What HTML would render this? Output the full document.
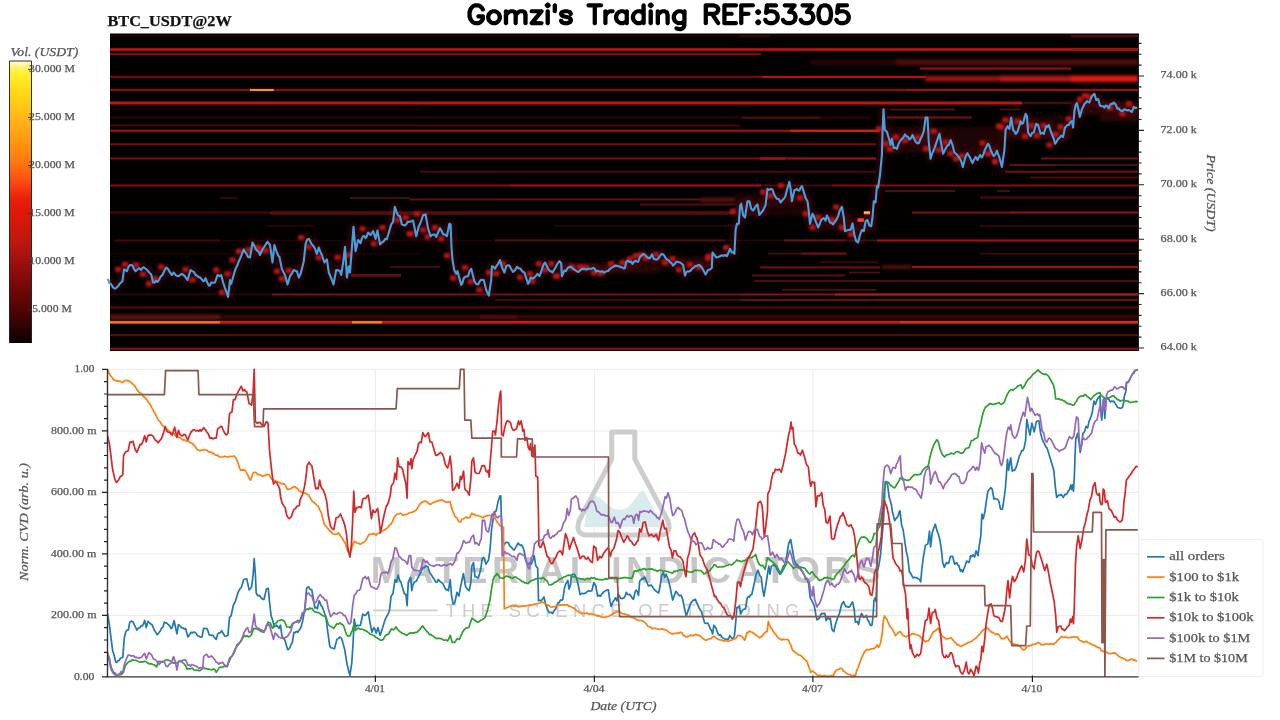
<!DOCTYPE html>
<html lang="en"><head><meta charset="utf-8"><title>Gomzi's Trading REF:53305 - BTC_USDT@2W</title>
<style>
html,body{margin:0;padding:0;background:#fff}
body{width:1280px;height:720px;overflow:hidden;position:relative;font-family:"Liberation Serif",serif}
svg{position:absolute;left:0;top:0;display:block}
svg text{font-family:"Liberation Serif",serif}
svg text.wm{font-family:"Liberation Sans",sans-serif}
h1{position:absolute;left:467px;top:0;width:385px;height:28px;margin:0;font:bold 27px/28px "Liberation Sans",sans-serif;color:transparent;white-space:nowrap;overflow:hidden}
</style></head><body>
<svg width="1280" height="720" viewBox="0 0 1280 720">
<defs>
<linearGradient id="cb" x1="0" y1="0" x2="0" y2="1">

<stop offset="0.0000" stop-color="#fffde0"/>
<stop offset="0.0106" stop-color="#fff8b8"/>
<stop offset="0.0248" stop-color="#fff260"/>
<stop offset="0.0532" stop-color="#ffec28"/>
<stop offset="0.1028" stop-color="#ffdc18"/>
<stop offset="0.1525" stop-color="#ffcb14"/>
<stop offset="0.1986" stop-color="#ffb818"/>
<stop offset="0.2801" stop-color="#ff9a10"/>
<stop offset="0.3688" stop-color="#ff7210"/>
<stop offset="0.4397" stop-color="#f84410"/>
<stop offset="0.4858" stop-color="#ea200a"/>
<stop offset="0.5355" stop-color="#e01808"/>
<stop offset="0.6348" stop-color="#c01810"/>
<stop offset="0.7057" stop-color="#a01010"/>
<stop offset="0.7943" stop-color="#780808"/>
<stop offset="0.8794" stop-color="#500404"/>
<stop offset="0.9539" stop-color="#280202"/>
<stop offset="1.0000" stop-color="#0c0000"/>
</linearGradient>
<clipPath id="hc"><rect x="110" y="33.5" width="1028" height="317.5"/></clipPath>
<clipPath id="cc"><rect x="107" y="368" width="1032" height="309.5"/></clipPath>
<filter color-interpolation-filters="sRGB" id="b0" x="-2%" y="-5%" width="104%" height="110%"><feGaussianBlur stdDeviation="0.35"/></filter>
<filter color-interpolation-filters="sRGB" id="b1" x="-5%" y="-5%" width="110%" height="110%"><feGaussianBlur stdDeviation="0.5 0.62"/></filter>
<filter color-interpolation-filters="sRGB" id="b3" x="-5%" y="-5%" width="110%" height="110%"><feGaussianBlur stdDeviation="1.5 1.7"/></filter>
<filter color-interpolation-filters="sRGB" id="b4" x="-5%" y="-20%" width="110%" height="140%"><feGaussianBlur stdDeviation="2.2"/></filter>
<filter color-interpolation-filters="sRGB" id="b2" x="-5%" y="-5%" width="110%" height="110%"><feGaussianBlur stdDeviation="1.1"/></filter>
</defs>

<rect x="110" y="33.5" width="1028.5" height="317.5" fill="#030000"/>
<g clip-path="url(#hc)"><g filter="url(#b1)">
<rect x="110" y="35.20" width="1028.0" height="1.6" fill="#300000"/>
<rect x="740" y="35.20" width="30.0" height="1.6" fill="#500606"/>
<rect x="1071" y="35.00" width="67.0" height="2" fill="#600808"/>
<rect x="110" y="48.20" width="961.0" height="2.6" fill="#c81010"/>
<rect x="1071" y="47.90" width="67.0" height="3.2" fill="#a01010"/>
<rect x="110" y="53.25" width="651.0" height="2" fill="#900808"/>
<rect x="920" y="67.50" width="151.0" height="2" fill="#a01010"/>
<rect x="110" y="75.75" width="652.0" height="2" fill="#880808"/>
<rect x="762" y="75.80" width="164.0" height="2.2" fill="#b81010"/>
<rect x="110" y="89.00" width="797.0" height="2" fill="#900808"/>
<rect x="907" y="88.90" width="231.0" height="2.2" fill="#a01010"/>
<rect x="250" y="88.90" width="23.8" height="2.2" fill="#ff9020"/>
<rect x="110" y="101.50" width="912.0" height="3" fill="#c81010"/>
<rect x="1022" y="101.75" width="50.0" height="2.5" fill="#401010"/>
<rect x="110" y="108.75" width="310.0" height="1.5" fill="#200000"/>
<rect x="890" y="108.50" width="65.0" height="2" fill="#501010"/>
<rect x="1000" y="108.50" width="20.0" height="2" fill="#401010"/>
<rect x="110" y="116.60" width="760.0" height="1.8" fill="#380000"/>
<rect x="742" y="116.80" width="79.0" height="1.8" fill="#501010"/>
<rect x="887" y="116.40" width="85.0" height="2.2" fill="#701010"/>
<rect x="110" y="124.60" width="630.0" height="1.8" fill="#500404"/>
<rect x="110" y="129.65" width="680.0" height="2.2" fill="#a00c0c"/>
<rect x="790" y="129.55" width="90.0" height="2.4" fill="#d02010"/>
<rect x="110" y="143.25" width="766.0" height="2" fill="#800808"/>
<rect x="110" y="157.50" width="650.0" height="2" fill="#880808"/>
<rect x="760" y="157.20" width="25.0" height="2.6" fill="#b01010"/>
<rect x="785" y="157.40" width="91.0" height="2.2" fill="#a01010"/>
<rect x="1041" y="157.50" width="97.0" height="2" fill="#701010"/>
<rect x="1010" y="164.00" width="45.0" height="2" fill="#601010"/>
<rect x="1055" y="164.00" width="83.0" height="2" fill="#401010"/>
<rect x="420" y="170.85" width="456.0" height="1.8" fill="#500808"/>
<rect x="1005" y="170.75" width="133.0" height="2" fill="#701010"/>
<rect x="1030" y="176.60" width="108.0" height="1.8" fill="#500808"/>
<rect x="110" y="184.50" width="400.0" height="2" fill="#900808"/>
<rect x="510" y="184.40" width="251.0" height="2.2" fill="#a01010"/>
<rect x="761" y="184.60" width="71.0" height="1.8" fill="#401010"/>
<rect x="832" y="184.50" width="306.0" height="2" fill="#801010"/>
<rect x="885" y="190.00" width="70.0" height="2" fill="#501010"/>
<rect x="997" y="190.00" width="13.0" height="2" fill="#401010"/>
<rect x="220" y="197.00" width="17.0" height="2" fill="#300606"/>
<rect x="350" y="197.00" width="60.0" height="2" fill="#401010"/>
<rect x="980" y="196.25" width="158.0" height="2.5" fill="#400808"/>
<rect x="410" y="198.50" width="325.0" height="2" fill="#601010"/>
<rect x="640" y="203.50" width="100.0" height="2" fill="#501010"/>
<rect x="110" y="211.50" width="160.0" height="2" fill="#500505"/>
<rect x="270" y="211.30" width="465.0" height="3.4" fill="#580c0c"/>
<rect x="912" y="211.50" width="98.0" height="2" fill="#801010"/>
<rect x="1010" y="211.40" width="128.0" height="2.2" fill="#901010"/>
<rect x="267" y="225.20" width="48.0" height="1.6" fill="#300404"/>
<rect x="555" y="225.20" width="185.0" height="1.6" fill="#2a0808"/>
<rect x="980" y="225.20" width="158.0" height="1.6" fill="#380808"/>
<rect x="115" y="239.50" width="105.0" height="2" fill="#480606"/>
<rect x="220" y="239.70" width="275.0" height="1.6" fill="#200303"/>
<rect x="495" y="239.40" width="230.0" height="2" fill="#501010"/>
<rect x="725" y="239.60" width="59.0" height="1.6" fill="#280505"/>
<rect x="784" y="239.40" width="61.0" height="2" fill="#701010"/>
<rect x="845" y="239.50" width="32.0" height="1.8" fill="#401010"/>
<rect x="877" y="239.40" width="261.0" height="2.2" fill="#a01010"/>
<rect x="110" y="253.00" width="310.0" height="1.5" fill="#1c0202"/>
<rect x="768" y="252.70" width="34.0" height="1.8" fill="#401010"/>
<rect x="802" y="252.50" width="45.0" height="2.2" fill="#701010"/>
<rect x="980" y="252.95" width="158.0" height="1.6" fill="#400808"/>
<rect x="819" y="261.40" width="59.0" height="1.8" fill="#400808"/>
<rect x="390" y="266.10" width="50.0" height="1.8" fill="#401010"/>
<rect x="760" y="266.40" width="120.0" height="2" fill="#701010"/>
<rect x="912" y="265.90" width="226.0" height="2.2" fill="#a01010"/>
<rect x="752" y="274.60" width="93.0" height="1.8" fill="#601010"/>
<rect x="849" y="271.60" width="31.0" height="1.8" fill="#501010"/>
<rect x="351" y="273.80" width="50.0" height="3" fill="#601010"/>
<rect x="754" y="280.10" width="384.0" height="1.8" fill="#501010"/>
<rect x="782" y="288.90" width="94.0" height="1.8" fill="#501010"/>
<rect x="110" y="293.60" width="162.0" height="1.8" fill="#2c0808"/>
<rect x="272" y="293.50" width="208.0" height="2" fill="#801010"/>
<rect x="480" y="293.50" width="260.0" height="2" fill="#701010"/>
<rect x="740" y="293.50" width="95.0" height="2" fill="#901010"/>
<rect x="835" y="293.30" width="303.0" height="2.4" fill="#b01818"/>
<rect x="495" y="299.10" width="245.0" height="1.8" fill="#500808"/>
<rect x="740" y="299.00" width="398.0" height="2" fill="#601010"/>
<rect x="110" y="306.50" width="1028.0" height="2" fill="#600808"/>
<rect x="480" y="315.50" width="37.0" height="3" fill="#801818"/>
<rect x="110" y="320.85" width="110.0" height="2.8" fill="#ff7020"/>
<rect x="220" y="320.85" width="132.0" height="2.8" fill="#d81810"/>
<rect x="352" y="320.85" width="30.0" height="2.8" fill="#ff7828"/>
<rect x="382" y="320.85" width="518.0" height="2.8" fill="#d81810"/>
<rect x="900" y="320.85" width="238.0" height="2.8" fill="#e82818"/>
<rect x="110" y="334.00" width="1028.0" height="2" fill="#600808"/>
<rect x="110" y="347.65" width="1028.0" height="2.2" fill="#901010"/>
</g><g filter="url(#b3)">
<rect x="810" y="59.80" width="86.0" height="5" fill="#2a0505"/>
<rect x="896" y="59.05" width="242.0" height="6.5" fill="#4a0c0c"/>
<rect x="925" y="75.95" width="75.0" height="5.5" fill="#a01212"/>
<rect x="1000" y="75.70" width="71.0" height="6" fill="#b81818"/>
<rect x="1071" y="75.45" width="67.0" height="6.5" fill="#e01c12"/>
<rect x="880" y="129.50" width="120.0" height="4" fill="#501010"/>
<rect x="700" y="197.50" width="35.0" height="5" fill="#501010"/>
<rect x="882" y="265.00" width="30.0" height="4" fill="#501010"/>
<rect x="110" y="314.50" width="110.0" height="5" fill="#601810"/>
<rect x="220" y="315.00" width="918.0" height="4" fill="#400808"/>
<rect x="880" y="127.0" width="120.0" height="26" fill="#1e0404"/>
<rect x="1000" y="116.0" width="71.0" height="24" fill="#1c0404"/>
<rect x="1071" y="101.0" width="67.0" height="14" fill="#260505"/>
<rect x="1100" y="113.0" width="38.0" height="8" fill="#2c0606"/>
<rect x="560" y="263.0" width="100.0" height="10" fill="#260505"/>
<rect x="640" y="257.0" width="72.0" height="10" fill="#220404"/>
<rect x="735" y="194.0" width="75.0" height="22" fill="#1a0303"/>
<rect x="810" y="213.0" width="66.0" height="18" fill="#180303"/>
</g><g filter="url(#b2)">
<rect x="115.1" y="266.8" width="6" height="5.2" fill="#d01818" opacity="0.88"/>
<rect x="122.0" y="261.8" width="6" height="5.2" fill="#d01818" opacity="0.88"/>
<rect x="133.0" y="262.4" width="6" height="5.2" fill="#d01818" opacity="0.88"/>
<rect x="140.0" y="271.8" width="6" height="5.2" fill="#d01818" opacity="0.88"/>
<rect x="145.8" y="281.1" width="6" height="5.2" fill="#d01818" opacity="0.88"/>
<rect x="152.0" y="276.1" width="6" height="5.2" fill="#d01818" opacity="0.88"/>
<rect x="158.2" y="264.3" width="6" height="5.2" fill="#d01818" opacity="0.88"/>
<rect x="182.6" y="266.8" width="6" height="5.2" fill="#d01818" opacity="0.88"/>
<rect x="189.5" y="277.4" width="6" height="5.2" fill="#d01818" opacity="0.88"/>
<rect x="213.2" y="267.4" width="6" height="5.2" fill="#d01818" opacity="0.88"/>
<rect x="218.9" y="289.9" width="6" height="5.2" fill="#d01818" opacity="0.88"/>
<rect x="224.5" y="271.1" width="6" height="5.2" fill="#d01818" opacity="0.88"/>
<rect x="229.5" y="257.4" width="6" height="5.2" fill="#d01818" opacity="0.88"/>
<rect x="235.8" y="248.7" width="6" height="5.2" fill="#d01818" opacity="0.88"/>
<rect x="245.8" y="247.4" width="6" height="5.2" fill="#d01818" opacity="0.88"/>
<rect x="254.5" y="244.9" width="6" height="5.2" fill="#d01818" opacity="0.88"/>
<rect x="298.2" y="234.9" width="6" height="5.2" fill="#d01818" opacity="0.88"/>
<rect x="305.8" y="244.3" width="6" height="5.2" fill="#d01818" opacity="0.88"/>
<rect x="256.4" y="246.2" width="6" height="5.2" fill="#d01818" opacity="0.88"/>
<rect x="262.6" y="248.0" width="6" height="5.2" fill="#d01818" opacity="0.88"/>
<rect x="273.9" y="268.6" width="6" height="5.2" fill="#d01818" opacity="0.88"/>
<rect x="278.9" y="276.1" width="6" height="5.2" fill="#d01818" opacity="0.88"/>
<rect x="285.8" y="268.0" width="6" height="5.2" fill="#d01818" opacity="0.88"/>
<rect x="315.8" y="254.9" width="6" height="5.2" fill="#d01818" opacity="0.88"/>
<rect x="334.5" y="254.9" width="6" height="5.2" fill="#d01818" opacity="0.88"/>
<rect x="345.8" y="252.4" width="6" height="5.2" fill="#d01818" opacity="0.88"/>
<rect x="359.5" y="226.2" width="6" height="5.2" fill="#d01818" opacity="0.88"/>
<rect x="370.8" y="241.2" width="6" height="5.2" fill="#d01818" opacity="0.88"/>
<rect x="379.5" y="224.9" width="6" height="5.2" fill="#d01818" opacity="0.88"/>
<rect x="394.5" y="217.4" width="6" height="5.2" fill="#d01818" opacity="0.88"/>
<rect x="402.6" y="214.9" width="6" height="5.2" fill="#d01818" opacity="0.88"/>
<rect x="406.4" y="231.2" width="6" height="5.2" fill="#d01818" opacity="0.88"/>
<rect x="413.9" y="211.2" width="6" height="5.2" fill="#d01818" opacity="0.88"/>
<rect x="407.6" y="231.2" width="6" height="5.2" fill="#d01818" opacity="0.88"/>
<rect x="420.1" y="227.4" width="6" height="5.2" fill="#d01818" opacity="0.88"/>
<rect x="424.5" y="234.3" width="6" height="5.2" fill="#d01818" opacity="0.88"/>
<rect x="432.0" y="224.9" width="6" height="5.2" fill="#d01818" opacity="0.88"/>
<rect x="438.2" y="236.2" width="6" height="5.2" fill="#d01818" opacity="0.88"/>
<rect x="443.9" y="253.0" width="6" height="5.2" fill="#d01818" opacity="0.88"/>
<rect x="450.1" y="275.5" width="6" height="5.2" fill="#d01818" opacity="0.88"/>
<rect x="462.0" y="264.9" width="6" height="5.2" fill="#d01818" opacity="0.88"/>
<rect x="467.6" y="279.3" width="6" height="5.2" fill="#d01818" opacity="0.88"/>
<rect x="476.4" y="287.4" width="6" height="5.2" fill="#d01818" opacity="0.88"/>
<rect x="485.8" y="269.9" width="6" height="5.2" fill="#d01818" opacity="0.88"/>
<rect x="493.2" y="271.1" width="6" height="5.2" fill="#d01818" opacity="0.88"/>
<rect x="500.1" y="261.1" width="6" height="5.2" fill="#d01818" opacity="0.88"/>
<rect x="517.0" y="274.9" width="6" height="5.2" fill="#d01818" opacity="0.88"/>
<rect x="527.0" y="271.1" width="6" height="5.2" fill="#d01818" opacity="0.88"/>
<rect x="529.5" y="278.6" width="6" height="5.2" fill="#d01818" opacity="0.88"/>
<rect x="535.8" y="261.1" width="6" height="5.2" fill="#d01818" opacity="0.88"/>
<rect x="542.0" y="267.4" width="6" height="5.2" fill="#d01818" opacity="0.88"/>
<rect x="548.2" y="261.1" width="6" height="5.2" fill="#d01818" opacity="0.88"/>
<rect x="553.9" y="273.6" width="6" height="5.2" fill="#d01818" opacity="0.88"/>
<rect x="553.2" y="273.6" width="6" height="5.2" fill="#d01818" opacity="0.88"/>
<rect x="569.0" y="264.4" width="6" height="5.2" fill="#d01818" opacity="0.88"/>
<rect x="577.0" y="264.4" width="6" height="5.2" fill="#d01818" opacity="0.88"/>
<rect x="583.0" y="264.9" width="6" height="5.2" fill="#d01818" opacity="0.88"/>
<rect x="591.0" y="270.4" width="6" height="5.2" fill="#d01818" opacity="0.88"/>
<rect x="598.0" y="270.9" width="6" height="5.2" fill="#d01818" opacity="0.88"/>
<rect x="608.0" y="261.1" width="6" height="5.2" fill="#d01818" opacity="0.88"/>
<rect x="619.5" y="259.9" width="6" height="5.2" fill="#d01818" opacity="0.88"/>
<rect x="627.0" y="256.1" width="6" height="5.2" fill="#d01818" opacity="0.88"/>
<rect x="633.0" y="253.0" width="6" height="5.2" fill="#d01818" opacity="0.88"/>
<rect x="638.0" y="252.4" width="6" height="5.2" fill="#d01818" opacity="0.88"/>
<rect x="643.0" y="255.4" width="6" height="5.2" fill="#d01818" opacity="0.88"/>
<rect x="653.0" y="251.8" width="6" height="5.2" fill="#d01818" opacity="0.88"/>
<rect x="662.0" y="259.9" width="6" height="5.2" fill="#d01818" opacity="0.88"/>
<rect x="669.5" y="256.1" width="6" height="5.2" fill="#d01818" opacity="0.88"/>
<rect x="675.8" y="267.4" width="6" height="5.2" fill="#d01818" opacity="0.88"/>
<rect x="687.0" y="261.8" width="6" height="5.2" fill="#d01818" opacity="0.88"/>
<rect x="695.8" y="264.9" width="6" height="5.2" fill="#d01818" opacity="0.88"/>
<rect x="705.0" y="255.4" width="6" height="5.2" fill="#d01818" opacity="0.88"/>
<rect x="730.0" y="208.7" width="6" height="5.2" fill="#d01818" opacity="0.88"/>
<rect x="760.0" y="189.4" width="6" height="5.2" fill="#d01818" opacity="0.88"/>
<rect x="778.0" y="183.0" width="6" height="5.2" fill="#d01818" opacity="0.88"/>
<rect x="767.6" y="193.0" width="6" height="5.2" fill="#d01818" opacity="0.88"/>
<rect x="797.0" y="195.4" width="6" height="5.2" fill="#d01818" opacity="0.88"/>
<rect x="802.6" y="211.2" width="6" height="5.2" fill="#d01818" opacity="0.88"/>
<rect x="809.5" y="224.9" width="6" height="5.2" fill="#d01818" opacity="0.88"/>
<rect x="815.0" y="214.9" width="6" height="5.2" fill="#d01818" opacity="0.88"/>
<rect x="829.0" y="217.4" width="6" height="5.2" fill="#d01818" opacity="0.88"/>
<rect x="833.0" y="204.4" width="6" height="5.2" fill="#d01818" opacity="0.88"/>
<rect x="839.0" y="224.9" width="6" height="5.2" fill="#d01818" opacity="0.88"/>
<rect x="848.0" y="231.8" width="6" height="5.2" fill="#d01818" opacity="0.88"/>
<rect x="705.8" y="253.7" width="6" height="5.2" fill="#d01818" opacity="0.88"/>
<rect x="723.0" y="244.9" width="6" height="5.2" fill="#d01818" opacity="0.88"/>
<rect x="875.8" y="126.2" width="6" height="5.2" fill="#d01818" opacity="0.88"/>
<rect x="882.6" y="141.2" width="6" height="5.2" fill="#d01818" opacity="0.88"/>
<rect x="887.0" y="146.8" width="6" height="5.2" fill="#d01818" opacity="0.88"/>
<rect x="893.0" y="134.4" width="6" height="5.2" fill="#d01818" opacity="0.88"/>
<rect x="902.0" y="138.0" width="6" height="5.2" fill="#d01818" opacity="0.88"/>
<rect x="914.5" y="134.9" width="6" height="5.2" fill="#d01818" opacity="0.88"/>
<rect x="923.0" y="146.2" width="6" height="5.2" fill="#d01818" opacity="0.88"/>
<rect x="930.8" y="128.7" width="6" height="5.2" fill="#d01818" opacity="0.88"/>
<rect x="935.8" y="147.4" width="6" height="5.2" fill="#d01818" opacity="0.88"/>
<rect x="942.6" y="139.9" width="6" height="5.2" fill="#d01818" opacity="0.88"/>
<rect x="947.6" y="151.2" width="6" height="5.2" fill="#d01818" opacity="0.88"/>
<rect x="953.0" y="156.2" width="6" height="5.2" fill="#d01818" opacity="0.88"/>
<rect x="959.0" y="153.4" width="6" height="5.2" fill="#d01818" opacity="0.88"/>
<rect x="979.5" y="140.4" width="6" height="5.2" fill="#d01818" opacity="0.88"/>
<rect x="985.8" y="151.2" width="6" height="5.2" fill="#d01818" opacity="0.88"/>
<rect x="992.0" y="158.7" width="6" height="5.2" fill="#d01818" opacity="0.88"/>
<rect x="996.0" y="123.4" width="6" height="5.2" fill="#d01818" opacity="0.88"/>
<rect x="992.0" y="159.3" width="6" height="5.2" fill="#d01818" opacity="0.88"/>
<rect x="985.0" y="151.2" width="6" height="5.2" fill="#d01818" opacity="0.88"/>
<rect x="998.2" y="124.3" width="6" height="5.2" fill="#d01818" opacity="0.88"/>
<rect x="1002.6" y="117.4" width="6" height="5.2" fill="#d01818" opacity="0.88"/>
<rect x="1022.0" y="133.7" width="6" height="5.2" fill="#d01818" opacity="0.88"/>
<rect x="1014.5" y="118.7" width="6" height="5.2" fill="#d01818" opacity="0.88"/>
<rect x="1028.0" y="123.0" width="6" height="5.2" fill="#d01818" opacity="0.88"/>
<rect x="1034.0" y="133.0" width="6" height="5.2" fill="#d01818" opacity="0.88"/>
<rect x="1040.8" y="123.0" width="6" height="5.2" fill="#d01818" opacity="0.88"/>
<rect x="1046.4" y="142.4" width="6" height="5.2" fill="#d01818" opacity="0.88"/>
<rect x="1052.6" y="131.8" width="6" height="5.2" fill="#d01818" opacity="0.88"/>
<rect x="1057.6" y="124.3" width="6" height="5.2" fill="#d01818" opacity="0.88"/>
<rect x="1065.8" y="116.2" width="6" height="5.2" fill="#d01818" opacity="0.88"/>
<rect x="1077.0" y="96.8" width="6" height="5.2" fill="#d01818" opacity="0.88"/>
<rect x="1082.0" y="93.0" width="6" height="5.2" fill="#d01818" opacity="0.88"/>
<rect x="1085.8" y="94.3" width="6" height="5.2" fill="#d01818" opacity="0.88"/>
<rect x="1107.0" y="105.4" width="6" height="5.2" fill="#d01818" opacity="0.88"/>
<rect x="1125.8" y="101.2" width="6" height="5.2" fill="#d01818" opacity="0.88"/>
<rect x="1119.5" y="111.2" width="6" height="5.2" fill="#d01818" opacity="0.88"/>
</g>
<g filter="url(#b4)" opacity="0.28"><path d="M107.8,278.8 L109.4,283.1 L114.4,288.5 L122.5,281.0 L124.0,269.4 L126.9,271.2 L130.0,265.0 L132.5,265.6 L135.6,271.2 L138.8,268.1 L141.2,270.0 L143.8,267.2 L148.1,271.2 L151.2,274.4 L153.1,282.5 L157.5,281.9 L162.5,275.0 L166.2,267.5 L170.0,272.5 L171.9,275.0 L173.8,272.5 L177.5,276.2 L181.9,273.8 L187.5,280.0 L190.6,270.0 L193.8,271.9 L195.6,275.0 L200.0,277.5 L203.1,281.2 L205.6,278.1 L208.8,285.6 L211.2,282.5 L215.0,282.5 L217.5,275.0 L219.4,276.2 L221.2,275.0 L223.1,282.5 L225.0,288.1 L228.1,296.9 L230.0,280.0 L231.2,283.8 L234.4,272.5 L238.8,261.2 L243.8,249.4 L248.1,256.9 L250.0,257.5 L252.5,242.5 L255.6,248.8 L260.0,255.0 L263.8,247.5 L267.5,241.9 L270.0,245.0 L272.5,262.5 L274.4,245.0 L276.9,252.5 L279.4,256.9 L281.9,268.8 L285.0,275.0 L287.5,284.4 L290.0,276.2 L293.8,270.0 L296.9,271.2 L298.8,277.5 L300.6,273.8 L303.8,261.2 L305.6,243.8 L308.8,238.8 L311.9,244.4 L315.0,248.8 L316.9,253.8 L318.8,247.5 L321.9,255.0 L324.4,262.5 L326.9,259.4 L328.8,272.5 L331.9,280.0 L333.5,284.4 L336.2,270.0 L340.0,271.2 L341.2,275.0 L343.5,260.0 L345.0,246.9 L346.9,277.5 L348.8,266.2 L350.0,272.5 L351.9,247.5 L353.5,226.9 L355.6,251.2 L358.1,240.0 L360.6,243.1 L363.1,236.2 L365.6,238.1 L368.1,232.5 L370.6,235.0 L373.1,231.2 L375.6,238.8 L377.5,230.6 L380.0,244.4 L383.8,241.2 L388.1,235.0 L391.2,224.4 L393.1,221.9 L394.8,206.9 L398.1,215.6 L400.0,216.2 L401.9,224.4 L405.0,225.6 L409.4,221.9 L413.1,220.6 L416.2,236.2 L418.8,226.2 L423.1,215.0 L425.6,214.4 L428.1,228.8 L430.6,236.2 L433.8,234.4 L436.2,236.9 L440.0,228.1 L443.1,234.4 L446.9,236.2 L449.4,223.8 L450.6,224.4 L451.5,247.5 L452.5,260.0 L454.4,270.6 L456.2,273.8 L457.5,271.2 L461.2,285.0 L463.8,278.1 L468.1,276.2 L471.2,268.8 L474.4,281.2 L478.1,284.4 L480.6,280.0 L483.8,280.0 L486.2,290.0 L488.8,295.5 L491.2,280.0 L491.9,266.2 L495.0,268.8 L498.1,263.8 L500.0,260.0 L501.9,266.9 L504.4,272.5 L506.2,266.2 L509.4,265.6 L513.1,271.9 L516.9,266.9 L520.6,268.8 L524.4,272.5 L528.1,283.8 L530.6,277.5 L534.4,277.5 L537.5,273.8 L539.4,276.2 L542.5,267.5 L545.0,262.5 L548.1,268.8 L550.0,271.2 L552.5,272.5 L555.6,267.5 L559.4,261.2 L561.2,263.1 L561.9,276.2 L564.4,270.6 L567.5,268.1 L571.2,266.9 L575.0,270.0 L578.8,271.9 L582.5,268.8 L586.2,269.4 L590.0,268.8 L593.1,268.1 L597.5,270.6 L602.5,271.2 L606.2,271.2 L610.0,268.8 L615.0,265.6 L618.8,266.2 L622.5,267.5 L625.0,268.1 L626.2,261.9 L629.4,261.9 L632.5,263.8 L635.6,260.6 L638.1,261.9 L640.0,256.9 L643.8,253.8 L646.2,256.2 L650.0,258.1 L651.9,254.4 L653.8,258.8 L657.5,259.4 L661.9,253.8 L665.6,258.1 L668.8,260.6 L673.1,265.6 L676.2,261.9 L680.0,262.5 L683.1,265.0 L685.0,275.6 L687.5,271.2 L690.6,270.6 L695.0,266.2 L698.8,265.0 L701.9,267.5 L705.6,274.4 L708.1,270.0 L710.0,269.4 L711.8,268.0 L712.5,252.5 L716.2,257.5 L720.0,256.2 L725.0,255.0 L726.9,256.2 L730.0,248.8 L731.9,252.5 L734.4,253.8 L735.6,230.0 L736.9,223.8 L738.8,223.8 L740.0,206.2 L741.2,203.8 L743.1,215.0 L745.0,217.5 L747.5,201.2 L749.4,201.2 L751.2,208.8 L753.1,210.6 L755.6,206.2 L757.5,204.4 L759.4,215.0 L762.5,211.2 L765.6,205.0 L767.5,188.8 L769.4,190.0 L771.2,188.8 L773.8,193.8 L776.9,198.8 L780.6,202.5 L783.8,198.8 L786.9,190.0 L789.4,181.9 L790.6,188.8 L791.9,201.2 L794.4,190.0 L796.9,188.8 L799.4,190.6 L801.9,186.2 L803.8,191.9 L805.6,198.1 L807.5,201.2 L808.8,211.2 L810.0,223.8 L812.5,213.8 L815.6,221.2 L818.1,227.5 L821.2,220.0 L823.8,218.1 L825.6,220.6 L826.9,215.6 L830.0,222.5 L833.1,224.4 L836.2,220.0 L840.0,210.0 L841.9,206.9 L843.8,217.5 L845.0,231.2 L848.1,230.0 L850.6,230.0 L852.5,223.4 L854.4,235.0 L856.2,241.2 L858.1,242.5 L860.0,235.0 L861.9,230.0 L863.8,231.2 L865.6,221.2 L867.5,220.0 L869.4,225.6 L871.2,226.2 L872.5,217.5 L873.8,201.2 L875.6,202.5 L876.9,186.2 L878.1,187.5 L880.0,175.0 L881.9,155.0 L882.5,132.5 L883.5,109.4 L884.8,130.0 L886.9,131.9 L889.4,140.0 L890.6,145.0 L891.9,138.8 L893.8,148.1 L896.9,148.8 L900.0,141.2 L905.0,134.4 L909.4,139.4 L912.5,135.0 L915.0,140.6 L918.8,143.1 L921.9,136.2 L923.8,131.2 L925.6,117.5 L927.5,117.5 L928.8,142.5 L930.6,158.8 L933.8,150.0 L936.9,141.2 L939.4,133.8 L941.2,143.8 L943.1,153.8 L946.2,147.5 L948.8,145.0 L950.6,140.0 L952.5,145.0 L954.4,152.5 L958.1,156.2 L961.2,161.2 L962.8,166.9 L965.0,158.8 L967.5,153.1 L970.0,157.5 L972.5,163.1 L975.6,156.9 L977.5,160.0 L980.0,155.0 L981.9,157.5 L985.0,149.4 L988.1,143.8 L990.6,150.0 L993.8,156.2 L996.9,150.6 L999.4,157.5 L1001.9,166.9 L1004.4,150.0 L1005.6,130.0 L1007.5,126.2 L1009.4,128.8 L1011.2,117.5 L1013.1,130.0 L1015.6,133.8 L1018.1,130.0 L1020.6,121.2 L1023.1,123.1 L1025.6,113.8 L1026.9,116.2 L1028.1,132.5 L1030.6,136.2 L1033.8,132.5 L1036.2,123.8 L1038.1,125.0 L1040.6,133.8 L1043.8,133.8 L1046.2,126.2 L1048.8,125.0 L1051.2,132.5 L1053.8,138.8 L1055.0,143.8 L1058.1,138.8 L1061.2,135.6 L1063.1,136.9 L1065.0,127.5 L1067.5,125.0 L1070.0,122.5 L1071.9,121.2 L1073.1,127.5 L1074.4,111.2 L1075.6,105.0 L1076.9,103.1 L1078.8,111.2 L1079.8,116.9 L1081.9,109.4 L1084.4,103.8 L1086.9,101.2 L1089.4,102.5 L1091.2,97.5 L1092.5,95.6 L1094.4,93.8 L1096.2,100.0 L1098.1,98.8 L1100.0,105.6 L1103.1,106.2 L1105.6,105.6 L1108.8,108.1 L1111.2,103.8 L1113.8,102.5 L1115.6,104.4 L1117.5,108.8 L1120.0,110.0 L1122.5,111.2 L1125.0,109.4 L1128.8,110.0 L1131.9,111.9 L1133.8,106.9 L1135.6,108.1 L1137.2,107.5" fill="none" stroke="#a01212" stroke-width="8" stroke-linejoin="round" stroke-linecap="butt"/></g>
<rect x="863.8" y="211" width="6.2" height="3.4" fill="#f07020"/><rect x="863.8" y="212" width="6.2" height="1.4" fill="#ffc050"/>
<rect x="857.6" y="218" width="6.2" height="4" fill="#e02818"/><rect x="857.6" y="219.5" width="6.2" height="1.2" fill="#f86048"/>
</g>
<path d="M107.8,278.8 L109.4,283.1 L111.1,284.2 L112.7,286.9 L114.4,288.5 L115.8,288.2 L117.1,287.1 L118.5,285.6 L119.8,283.5 L121.2,282.5 L122.5,281.0 L124.0,269.4 L125.5,270.2 L126.9,271.2 L128.4,267.2 L130.0,265.0 L131.2,265.0 L132.5,265.6 L134.1,269.1 L135.6,271.2 L137.2,269.8 L138.8,268.1 L140.0,268.8 L141.2,270.0 L142.5,267.9 L143.8,267.2 L145.2,268.5 L146.7,269.5 L148.1,271.2 L149.7,272.9 L151.2,274.4 L153.1,282.5 L154.6,282.6 L156.0,280.5 L157.5,281.9 L159.2,279.5 L160.8,276.3 L162.5,275.0 L164.4,270.6 L166.2,267.5 L168.1,269.1 L170.0,272.5 L171.9,275.0 L173.8,272.5 L175.6,275.1 L177.5,276.2 L179.0,275.9 L180.4,274.9 L181.9,273.8 L183.3,274.8 L184.7,275.9 L186.1,278.2 L187.5,280.0 L190.6,270.0 L192.2,271.1 L193.8,271.9 L195.6,275.0 L197.1,275.8 L198.5,277.1 L200.0,277.5 L201.6,279.1 L203.1,281.2 L204.3,280.9 L205.6,278.1 L207.2,282.3 L208.8,285.6 L210.0,285.4 L211.2,282.5 L213.1,282.7 L215.0,282.5 L217.5,275.0 L219.4,276.2 L221.2,275.0 L223.1,282.5 L225.0,288.1 L226.6,292.3 L228.1,296.9 L230.0,280.0 L231.2,283.8 L234.4,272.5 L235.8,268.2 L237.3,265.6 L238.8,261.2 L240.4,258.0 L242.1,253.5 L243.8,249.4 L245.2,252.2 L246.7,254.2 L248.1,256.9 L250.0,257.5 L252.5,242.5 L254.1,245.3 L255.6,248.8 L257.1,250.6 L258.5,251.6 L260.0,255.0 L261.9,250.5 L263.8,247.5 L265.6,244.7 L267.5,241.9 L268.8,243.5 L270.0,245.0 L272.5,262.5 L274.4,245.0 L276.9,252.5 L278.1,255.5 L279.4,256.9 L281.9,268.8 L283.4,272.3 L285.0,275.0 L287.5,284.4 L290.0,276.2 L291.9,273.4 L293.8,270.0 L295.3,270.7 L296.9,271.2 L298.8,277.5 L300.6,273.8 L303.8,261.2 L305.6,243.8 L307.2,239.7 L308.8,238.8 L310.3,241.6 L311.9,244.4 L313.4,246.0 L315.0,248.8 L316.9,253.8 L318.8,247.5 L320.3,251.6 L321.9,255.0 L324.4,262.5 L325.6,260.8 L326.9,259.4 L328.8,272.5 L330.3,276.0 L331.9,280.0 L333.5,284.4 L336.2,270.0 L338.1,270.2 L340.0,271.2 L341.2,275.0 L343.5,260.0 L345.0,246.9 L346.9,277.5 L348.8,266.2 L350.0,272.5 L351.9,247.5 L353.5,226.9 L355.6,251.2 L358.1,240.0 L359.4,241.3 L360.6,243.1 L361.9,238.3 L363.1,236.2 L364.4,236.1 L365.6,238.1 L366.9,236.1 L368.1,232.5 L369.4,234.0 L370.6,235.0 L371.9,232.8 L373.1,231.2 L375.6,238.8 L377.5,230.6 L380.0,244.4 L381.9,242.6 L383.8,241.2 L385.2,238.9 L386.7,239.3 L388.1,235.0 L391.2,224.4 L393.1,221.9 L394.8,206.9 L396.4,211.6 L398.1,215.6 L400.0,216.2 L401.9,224.4 L403.4,225.0 L405.0,225.6 L406.5,223.9 L407.9,221.5 L409.4,221.9 L411.2,221.3 L413.1,220.6 L416.2,236.2 L418.8,226.2 L420.2,223.5 L421.7,219.4 L423.1,215.0 L424.4,214.9 L425.6,214.4 L428.1,228.8 L430.6,236.2 L432.2,234.9 L433.8,234.4 L435.0,234.8 L436.2,236.9 L438.1,232.5 L440.0,228.1 L441.6,231.0 L443.1,234.4 L445.0,234.5 L446.9,236.2 L449.4,223.8 L450.6,224.4 L451.5,247.5 L452.5,260.0 L454.4,270.6 L456.2,273.8 L457.5,271.2 L461.2,285.0 L462.5,282.7 L463.8,278.1 L465.2,276.8 L466.7,276.5 L468.1,276.2 L469.7,270.8 L471.2,268.8 L474.4,281.2 L476.2,284.0 L478.1,284.4 L479.4,282.1 L480.6,280.0 L482.2,279.9 L483.8,280.0 L486.2,290.0 L487.5,292.9 L488.8,295.5 L491.2,280.0 L491.9,266.2 L493.4,266.9 L495.0,268.8 L496.6,265.8 L498.1,263.8 L500.0,260.0 L501.9,266.9 L503.1,269.9 L504.4,272.5 L506.2,266.2 L507.8,265.3 L509.4,265.6 L511.2,269.0 L513.1,271.9 L515.0,270.2 L516.9,266.9 L518.8,268.3 L520.6,268.8 L522.5,271.6 L524.4,272.5 L528.1,283.8 L529.4,281.4 L530.6,277.5 L532.5,278.7 L534.4,277.5 L536.0,275.8 L537.5,273.8 L539.4,276.2 L541.0,272.2 L542.5,267.5 L543.8,264.2 L545.0,262.5 L546.5,265.5 L548.1,268.8 L550.0,271.2 L551.2,271.4 L552.5,272.5 L554.0,269.9 L555.6,267.5 L557.5,263.6 L559.4,261.2 L561.2,263.1 L561.9,276.2 L563.1,273.6 L564.4,270.6 L566.0,271.1 L567.5,268.1 L569.4,267.0 L571.2,266.9 L573.1,268.8 L575.0,270.0 L576.9,271.4 L578.8,271.9 L580.6,269.8 L582.5,268.8 L584.4,268.9 L586.2,269.4 L588.1,268.7 L590.0,268.8 L591.5,268.7 L593.1,268.1 L594.6,268.5 L596.0,271.6 L597.5,270.6 L599.2,271.4 L600.8,271.8 L602.5,271.2 L604.4,272.7 L606.2,271.2 L608.1,271.0 L610.0,268.8 L611.7,267.6 L613.3,266.9 L615.0,265.6 L616.9,265.9 L618.8,266.2 L620.6,267.1 L622.5,267.5 L623.8,268.5 L625.0,268.1 L626.2,261.9 L627.8,260.5 L629.4,261.9 L631.0,261.6 L632.5,263.8 L634.0,261.9 L635.6,260.6 L636.9,261.6 L638.1,261.9 L640.0,256.9 L641.9,255.0 L643.8,253.8 L645.0,254.9 L646.2,256.2 L648.1,257.9 L650.0,258.1 L651.9,254.4 L653.8,258.8 L655.6,259.5 L657.5,259.4 L659.0,257.4 L660.4,255.4 L661.9,253.8 L663.8,254.9 L665.6,258.1 L667.2,259.7 L668.8,260.6 L670.2,262.3 L671.6,263.2 L673.1,265.6 L674.7,264.1 L676.2,261.9 L678.1,261.9 L680.0,262.5 L681.5,263.5 L683.1,265.0 L685.0,275.6 L686.2,272.3 L687.5,271.2 L689.0,271.5 L690.6,270.6 L692.1,268.6 L693.5,267.9 L695.0,266.2 L696.9,265.8 L698.8,265.0 L700.3,265.8 L701.9,267.5 L703.8,270.9 L705.6,274.4 L706.9,272.0 L708.1,270.0 L710.0,269.4 L711.8,268.0 L712.5,252.5 L714.4,254.8 L716.2,257.5 L718.1,257.0 L720.0,256.2 L721.7,255.3 L723.3,255.9 L725.0,255.0 L726.9,256.2 L728.5,252.5 L730.0,248.8 L731.9,252.5 L733.1,252.3 L734.4,253.8 L735.6,230.0 L736.9,223.8 L738.8,223.8 L740.0,206.2 L741.2,203.8 L743.1,215.0 L745.0,217.5 L747.5,201.2 L749.4,201.2 L751.2,208.8 L753.1,210.6 L754.4,208.7 L755.6,206.2 L757.5,204.4 L759.4,215.0 L761.0,212.8 L762.5,211.2 L764.0,208.4 L765.6,205.0 L767.5,188.8 L769.4,190.0 L771.2,188.8 L772.5,189.6 L773.8,193.8 L775.3,196.4 L776.9,198.8 L778.8,199.0 L780.6,202.5 L782.2,200.3 L783.8,198.8 L785.3,196.5 L786.9,190.0 L789.4,181.9 L790.6,188.8 L791.9,201.2 L794.4,190.0 L795.6,189.8 L796.9,188.8 L798.1,190.3 L799.4,190.6 L800.6,187.9 L801.9,186.2 L803.8,191.9 L805.6,198.1 L807.5,201.2 L808.8,211.2 L810.0,223.8 L812.5,213.8 L814.0,216.6 L815.6,221.2 L816.9,224.2 L818.1,227.5 L819.7,224.0 L821.2,220.0 L822.5,218.9 L823.8,218.1 L825.6,220.6 L826.9,215.6 L828.5,218.5 L830.0,222.5 L831.5,222.8 L833.1,224.4 L834.7,221.9 L836.2,220.0 L838.1,216.1 L840.0,210.0 L841.9,206.9 L843.8,217.5 L845.0,231.2 L846.5,230.6 L848.1,230.0 L849.4,229.7 L850.6,230.0 L852.5,223.4 L854.4,235.0 L856.2,241.2 L858.1,242.5 L860.0,235.0 L861.9,230.0 L863.8,231.2 L865.6,221.2 L867.5,220.0 L869.4,225.6 L871.2,226.2 L872.5,217.5 L873.8,201.2 L875.6,202.5 L876.9,186.2 L878.1,187.5 L880.0,175.0 L881.9,155.0 L882.5,132.5 L883.5,109.4 L884.8,130.0 L885.8,130.7 L886.9,131.9 L889.4,140.0 L890.6,145.0 L891.9,138.8 L893.8,148.1 L895.3,147.7 L896.9,148.8 L898.5,144.0 L900.0,141.2 L901.7,139.0 L903.3,137.6 L905.0,134.4 L906.5,136.4 L907.9,136.7 L909.4,139.4 L911.0,138.2 L912.5,135.0 L913.8,138.0 L915.0,140.6 L916.9,143.1 L918.8,143.1 L920.3,139.5 L921.9,136.2 L923.8,131.2 L925.6,117.5 L927.5,117.5 L928.8,142.5 L930.6,158.8 L932.2,153.4 L933.8,150.0 L935.3,145.8 L936.9,141.2 L939.4,133.8 L941.2,143.8 L943.1,153.8 L944.7,150.5 L946.2,147.5 L947.5,145.5 L948.8,145.0 L950.6,140.0 L952.5,145.0 L954.4,152.5 L956.2,153.8 L958.1,156.2 L959.7,158.4 L961.2,161.2 L962.8,166.9 L965.0,158.8 L966.2,155.3 L967.5,153.1 L968.8,155.7 L970.0,157.5 L971.2,160.5 L972.5,163.1 L974.0,159.7 L975.6,156.9 L977.5,160.0 L978.8,157.2 L980.0,155.0 L981.9,157.5 L983.5,154.1 L985.0,149.4 L986.5,146.8 L988.1,143.8 L989.4,146.0 L990.6,150.0 L992.2,153.3 L993.8,156.2 L995.3,154.6 L996.9,150.6 L998.1,154.2 L999.4,157.5 L1001.9,166.9 L1004.4,150.0 L1005.6,130.0 L1007.5,126.2 L1009.4,128.8 L1011.2,117.5 L1013.1,130.0 L1014.4,131.3 L1015.6,133.8 L1016.9,132.9 L1018.1,130.0 L1020.6,121.2 L1021.9,123.9 L1023.1,123.1 L1025.6,113.8 L1026.9,116.2 L1028.1,132.5 L1029.3,134.5 L1030.6,136.2 L1032.2,132.8 L1033.8,132.5 L1036.2,123.8 L1038.1,125.0 L1040.6,133.8 L1042.2,132.7 L1043.8,133.8 L1046.2,126.2 L1047.5,126.9 L1048.8,125.0 L1051.2,132.5 L1052.5,135.5 L1053.8,138.8 L1055.0,143.8 L1056.5,141.8 L1058.1,138.8 L1059.7,137.6 L1061.2,135.6 L1063.1,136.9 L1065.0,127.5 L1066.2,126.4 L1067.5,125.0 L1068.8,125.0 L1070.0,122.5 L1071.9,121.2 L1073.1,127.5 L1074.4,111.2 L1075.6,105.0 L1076.9,103.1 L1078.8,111.2 L1079.8,116.9 L1081.9,109.4 L1083.2,106.8 L1084.4,103.8 L1085.7,103.0 L1086.9,101.2 L1088.2,102.1 L1089.4,102.5 L1091.2,97.5 L1092.5,95.6 L1094.4,93.8 L1096.2,100.0 L1098.1,98.8 L1100.0,105.6 L1101.5,106.2 L1103.1,106.2 L1104.3,107.7 L1105.6,105.6 L1107.2,106.1 L1108.8,108.1 L1110.0,105.1 L1111.2,103.8 L1112.5,104.0 L1113.8,102.5 L1115.6,104.4 L1117.5,108.8 L1118.8,108.5 L1120.0,110.0 L1121.2,110.8 L1122.5,111.2 L1123.8,109.6 L1125.0,109.4 L1126.9,110.4 L1128.8,110.0 L1130.3,111.0 L1131.9,111.9 L1133.8,106.9 L1135.6,108.1 L1137.2,107.5" fill="none" stroke="#45a0e2" stroke-width="2.1" stroke-linejoin="round" stroke-linecap="butt" filter="url(#b0)"/>
<path d="M1138.5,33.5V351" stroke="#222" stroke-width="1" fill="none"/>
<path d="M1138.5,348.00h5.5M1138.5,337.12h3M1138.5,326.24h3M1138.5,315.36h3M1138.5,304.48h3M1138.5,293.60h5.5M1138.5,282.72h3M1138.5,271.84h3M1138.5,260.96h3M1138.5,250.08h3M1138.5,239.20h5.5M1138.5,228.32h3M1138.5,217.44h3M1138.5,206.56h3M1138.5,195.68h3M1138.5,184.80h5.5M1138.5,173.92h3M1138.5,163.04h3M1138.5,152.16h3M1138.5,141.28h3M1138.5,130.40h5.5M1138.5,119.52h3M1138.5,108.64h3M1138.5,97.76h3M1138.5,86.88h3M1138.5,76.00h5.5M1138.5,65.12h3M1138.5,54.24h3M1138.5,43.36h3" stroke="#222" stroke-width="1.1" fill="none"/>
<text x="1160.6" y="78.4" font-size="10.69" fill="#555" stroke="#555" stroke-width="0.25" textLength="36.1" lengthAdjust="spacingAndGlyphs">74.00 k</text>
<text x="1160.6" y="132.8" font-size="10.69" fill="#555" stroke="#555" stroke-width="0.25" textLength="36.1" lengthAdjust="spacingAndGlyphs">72.00 k</text>
<text x="1160.6" y="187.2" font-size="10.69" fill="#555" stroke="#555" stroke-width="0.25" textLength="36.1" lengthAdjust="spacingAndGlyphs">70.00 k</text>
<text x="1160.6" y="241.6" font-size="10.69" fill="#555" stroke="#555" stroke-width="0.25" textLength="36.2" lengthAdjust="spacingAndGlyphs">68.00 k</text>
<text x="1160.6" y="296.0" font-size="10.69" fill="#555" stroke="#555" stroke-width="0.25" textLength="36.2" lengthAdjust="spacingAndGlyphs">66.00 k</text>
<text x="1160.6" y="350.4" font-size="10.69" fill="#555" stroke="#555" stroke-width="0.25" textLength="36.2" lengthAdjust="spacingAndGlyphs">64.00 k</text>
<text x="1207" y="193" font-size="12.73" text-anchor="middle" font-style="italic" fill="#555" stroke="#555" stroke-width="0.25" textLength="77.2" lengthAdjust="spacingAndGlyphs" transform="rotate(90 1207 193)">Price (USDT)</text>
<text x="107.5" y="25.7" font-size="15.40" font-weight="bold" fill="#111" stroke="#111" stroke-width="0.25" textLength="124.2" lengthAdjust="spacingAndGlyphs">BTC_USDT@2W</text>
<rect x="9.5" y="61" width="22" height="282" fill="url(#cb)"/>
<path d="M9.5,343V61H31.5V343" stroke="#1a1a1a" stroke-width="1" fill="none" opacity="0.9"/>
<text x="52" y="72.0" font-size="10.69" text-anchor="middle" fill="#555" stroke="#555" stroke-width="0.25" textLength="45.8" lengthAdjust="spacingAndGlyphs">30.000 M</text>
<text x="52" y="120.0" font-size="10.69" text-anchor="middle" fill="#555" stroke="#555" stroke-width="0.25" textLength="45.9" lengthAdjust="spacingAndGlyphs">25.000 M</text>
<text x="52" y="168.1" font-size="10.69" text-anchor="middle" fill="#555" stroke="#555" stroke-width="0.25" textLength="45.9" lengthAdjust="spacingAndGlyphs">20.000 M</text>
<text x="52" y="216.2" font-size="10.69" text-anchor="middle" fill="#555" stroke="#555" stroke-width="0.25" textLength="45.4" lengthAdjust="spacingAndGlyphs">15.000 M</text>
<text x="52" y="264.3" font-size="10.69" text-anchor="middle" fill="#555" stroke="#555" stroke-width="0.25" textLength="45.4" lengthAdjust="spacingAndGlyphs">10.000 M</text>
<text x="52" y="312.4" font-size="10.69" text-anchor="middle" fill="#555" stroke="#555" stroke-width="0.25" textLength="39.5" lengthAdjust="spacingAndGlyphs">5.000 M</text>
<path d="M28,69.3h3.5M28,117.4h3.5M28,165.5h3.5M28,213.7h3.5M28,261.8h3.5M28,309.9h3.5" stroke="#333" stroke-width="1" fill="none"/>
<text x="10.5" y="56.3" font-size="12.73" font-style="italic" fill="#555" stroke="#555" stroke-width="0.25" textLength="67.7" lengthAdjust="spacingAndGlyphs">Vol. (USDT)</text>
<path d="M107.5,615.40H1138.5M107.5,553.90H1138.5M107.5,492.40H1138.5M107.5,430.90H1138.5M107.5,369.40H1138.5M375.4,369.4V676.9M594.4,369.4V676.9M812.9,369.4V676.9M1032.4,369.4V676.9M1138.7,369.4V676.9" stroke="#ebebeb" stroke-width="1" fill="none"/>
<g id="wm">
<path d="M589,497 C596,494 600,497 604,501 C611,509 620,513 628,507 C636,500 638,492 643,490 L664,527 H584 L589,497Z" fill="#d8eced"/>
<path d="M611.7,459 V432 H634.8 V459 L668,521 Q672,535 660,535 H587 Q575,535 579,521 Z" fill="none" stroke="#cdcdcd" stroke-width="5" stroke-linejoin="round"/>
<text class="wm" x="370.8" y="583.4" font-size="37.5" font-weight="bold" fill="#c6c6c6" textLength="510" lengthAdjust="spacing">MATERIAL INDICATORS</text>
<text class="wm" x="445.4" y="616.9" font-size="18.4" fill="#cbcbcb" textLength="354" lengthAdjust="spacing">THE SCIENCE OF TRADING</text>
<path d="M373,610.4H437.5M809,610.4H877" stroke="#cfcfcf" stroke-width="1.6" fill="none"/>
</g>
<g clip-path="url(#cc)">
<path d="M107.6,653.5 L109.0,660.0 L110.6,668.0 L112.5,672.6 L115.5,675.2 L119.0,675.2 L121.5,673.4 L123.0,671.0" fill="none" stroke="#8f8f8f" stroke-width="1.5" stroke-linejoin="round" stroke-linecap="butt"/>
<path d="M106.8,369.4 L107.0,612.0 L107.8,615.0 L109.4,625.2 L111.0,637.8 L112.6,650.4 L114.1,655.1 L115.7,662.1 L116.9,662.3 L118.1,660.6 L119.2,660.5 L120.4,658.2 L121.6,657.8 L122.8,657.4 L124.3,637.8 L125.9,631.5 L127.1,630.2 L128.3,630.0 L129.8,622.1 L131.4,621.1 L133.0,621.8 L134.5,625.2 L135.7,627.6 L136.9,630.0 L138.4,628.0 L140.0,627.6 L141.2,625.7 L142.4,626.0 L143.6,623.4 L144.7,620.5 L146.3,627.6 L147.9,621.3 L149.2,622.5 L150.5,623.8 L151.8,624.5 L153.0,626.6 L154.2,630.0 L155.8,632.4 L157.3,634.7 L158.9,632.7 L160.4,630.7 L161.6,628.0 L162.8,627.6 L164.4,622.1 L165.6,622.9 L166.7,622.9 L168.3,624.7 L169.9,626.0 L171.1,628.6 L172.2,627.6 L174.1,620.5 L176.9,633.9 L178.5,624.5 L180.1,626.2 L181.6,627.6 L182.9,627.8 L184.3,629.1 L185.6,628.4 L187.9,637.0 L189.5,634.8 L191.1,632.3 L192.4,633.0 L193.7,632.0 L195.0,632.3 L196.3,633.8 L197.6,635.7 L198.9,636.2 L200.4,637.1 L202.0,637.0 L203.6,628.4 L205.2,628.5 L206.8,628.4 L207.9,630.7 L209.1,634.7 L210.4,635.3 L211.7,635.2 L213.0,635.4 L214.6,637.9 L216.2,639.4 L217.7,633.9 L219.0,633.0 L220.4,632.6 L221.7,630.7 L223.2,633.4 L224.8,636.2 L226.4,636.0 L227.9,635.4 L229.5,617.4 L231.1,615.8 L233.4,604.8 L234.6,603.0 L235.8,600.1 L238.1,592.3 L239.7,589.1 L241.3,587.6 L243.6,579.7 L245.2,579.0 L246.8,578.9 L249.1,589.9 L250.3,588.4 L251.5,587.6 L253.1,575.0 L254.2,558.7 L255.4,575.0 L256.2,593.1 L257.8,595.7 L259.3,595.4 L260.5,596.9 L261.7,598.5 L262.9,599.4 L264.0,599.3 L266.4,589.1 L268.3,588.3 L269.5,601.7 L271.1,615.8 L272.7,620.5 L274.3,626.8 L275.5,626.5 L276.6,625.2 L277.8,626.6 L279.0,628.4 L280.5,625.2 L282.1,637.0 L283.6,637.8 L285.2,640.9 L287.6,649.6 L288.8,649.1 L290.0,647.2 L291.1,644.5 L292.3,642.5 L293.9,632.3 L295.2,632.8 L296.5,631.3 L297.8,632.3 L298.9,630.4 L300.0,629.2 L301.2,626.6 L302.4,622.1 L304.7,609.5 L306.6,588.3 L308.6,586.8 L310.2,589.4 L311.8,589.9 L313.3,598.5 L314.9,608.0 L316.1,607.4 L317.3,608.8 L319.2,600.9 L321.2,605.6 L322.4,607.0 L323.5,610.3 L324.7,613.8 L325.9,617.4 L327.5,629.9 L329.8,646.4 L331.0,647.7 L332.2,648.0 L333.4,648.5 L334.5,648.8 L336.9,639.4 L338.4,638.4 L340.0,637.0 L341.2,638.2 L342.4,640.9 L344.7,649.6 L347.1,664.5 L349.9,675.5 L351.8,662.9 L353.1,642.5 L354.2,619.0 L355.7,626.8 L357.3,625.2 L358.9,625.6 L360.4,625.2 L362.8,614.2 L364.4,615.4 L365.9,615.0 L367.1,613.1 L368.3,611.9 L369.9,622.1 L371.9,632.3 L373.8,627.6 L375.0,629.3 L376.1,633.1 L378.0,627.6 L380.1,635.4 L382.4,628.4 L384.8,620.5 L386.0,617.6 L387.1,615.8 L388.3,613.6 L389.5,610.3 L391.1,596.2 L392.9,593.8 L395.0,579.7 L396.5,582.1 L398.1,575.2 L399.7,580.5 L400.9,581.9 L402.0,586.0 L404.4,593.8 L406.0,594.6 L407.1,605.6 L408.3,582.1 L409.5,579.7 L410.7,577.4 L411.8,590.7 L413.0,584.4 L414.6,582.1 L416.2,581.3 L417.4,578.9 L418.5,576.7 L419.7,574.2 L420.9,572.0 L422.0,569.7 L423.2,567.3 L424.4,567.7 L425.6,565.8 L426.8,566.5 L427.9,566.5 L429.1,571.1 L430.3,573.6 L431.9,575.8 L433.4,578.2 L434.6,579.8 L435.8,582.1 L437.1,582.1 L438.4,579.4 L439.7,581.3 L441.3,582.4 L442.9,583.6 L444.4,586.9 L446.0,589.9 L447.2,589.4 L448.4,590.7 L450.2,579.7 L451.5,595.4 L453.1,604.0 L454.6,603.3 L457.0,592.3 L458.9,596.2 L460.4,587.6 L463.4,573.5 L465.6,586.8 L467.4,589.1 L469.2,590.7 L470.8,582.8 L471.9,565.8 L473.5,562.6 L475.0,576.7 L476.6,577.0 L478.2,578.2 L480.5,570.5 L482.1,559.5 L483.3,557.3 L484.5,558.7 L486.0,564.2 L487.2,562.1 L488.4,560.3 L490.0,550.1 L491.5,529.7 L493.9,514.0 L495.0,511.7 L496.2,510.8 L498.1,501.4 L500.0,495.9 L500.8,495.9 L501.3,517.1 L502.0,540.0 L504.0,545.0 L505.1,543.2 L506.3,542.2 L507.5,542.5 L508.6,543.0 L509.8,545.9 L511.0,546.9 L512.5,548.6 L514.1,550.1 L515.3,548.1 L516.5,546.1 L518.1,543.0 L519.2,544.5 L520.4,545.4 L521.6,544.8 L522.8,546.9 L524.3,551.6 L525.9,560.3 L527.5,564.2 L528.6,564.3 L529.8,562.6 L531.4,564.2 L533.0,559.5 L534.2,555.6 L535.8,565.8 L537.7,568.1 L538.5,600.9 L539.6,600.1 L540.8,600.9 L542.4,599.3 L544.0,597.0 L545.5,604.0 L547.1,608.8 L548.3,611.1 L549.5,612.7 L551.0,612.3 L552.6,613.5 L554.2,610.4 L555.7,608.8 L556.9,605.4 L558.1,602.5 L559.2,602.7 L560.4,600.1 L561.6,600.2 L562.8,599.3 L564.4,588.3 L565.9,583.6 L567.8,580.5 L569.1,589.1 L570.6,584.4 L571.4,575.2 L573.0,574.3 L574.6,574.4 L575.8,576.8 L576.9,579.7 L578.5,586.0 L580.1,594.6 L581.7,593.3 L583.2,593.8 L584.4,593.4 L585.6,593.1 L587.2,591.5 L588.7,590.7 L590.2,591.2 L591.8,590.7 L593.9,582.5 L595.8,586.0 L597.6,596.2 L599.0,595.2 L600.5,596.2 L601.6,594.4 L602.8,593.1 L604.4,591.3 L606.0,590.7 L607.1,589.8 L608.3,589.9 L609.9,600.9 L611.1,606.4 L613.0,601.7 L614.2,600.3 L615.4,597.8 L617.0,600.9 L618.1,593.8 L619.5,596.2 L620.9,598.5 L622.5,598.6 L624.0,597.8 L625.2,595.9 L626.4,592.3 L627.5,594.3 L628.7,594.6 L629.9,594.4 L631.1,596.2 L632.2,598.2 L633.4,599.3 L635.3,591.5 L636.3,590.2 L637.4,591.5 L638.5,595.4 L639.7,581.3 L640.9,579.9 L642.1,578.5 L643.2,579.2 L644.4,577.0 L645.6,579.4 L646.8,582.0 L648.4,586.0 L650.0,585.3 L651.5,585.2 L653.0,587.7 L654.6,589.9 L655.9,591.0 L657.3,592.1 L658.6,593.1 L660.1,586.0 L661.7,575.2 L663.3,572.8 L664.8,577.5 L666.1,574.4 L668.0,579.0 L669.9,586.0 L671.4,593.8 L672.7,600.1 L674.3,595.4 L675.8,591.5 L677.0,592.5 L678.2,594.6 L679.8,595.8 L681.3,595.4 L682.9,600.1 L684.5,608.8 L686.3,615.8 L687.3,613.3 L688.4,609.5 L689.5,606.2 L690.7,603.3 L691.9,601.9 L693.1,600.1 L694.2,600.2 L695.4,599.3 L696.6,602.8 L697.8,604.8 L698.9,607.4 L700.0,609.5 L701.6,611.8 L702.4,615.1 L704.7,623.0 L706.2,623.5 L707.8,623.0 L709.0,625.6 L710.2,628.5 L711.4,630.4 L712.6,634.0 L713.8,625.3 L715.7,627.7 L716.9,630.5 L718.1,634.0 L719.2,635.1 L720.4,634.7 L721.6,637.0 L722.8,637.9 L724.3,638.8 L725.9,639.5 L727.1,639.1 L728.3,639.5 L729.8,635.5 L731.0,637.3 L732.2,638.7 L733.4,638.3 L734.5,635.5 L735.8,621.4 L736.9,607.3 L738.0,607.7 L739.2,606.0 L740.8,613.8 L742.0,611.1 L743.2,609.5 L744.4,609.2 L745.5,609.0 L747.1,598.5 L748.3,596.7 L749.5,597.0 L750.6,594.9 L751.8,594.5 L754.2,583.5 L756.2,574.1 L758.1,570.2 L759.7,575.6 L761.2,577.2 L762.8,590.6 L764.0,596.1 L765.6,586.6 L767.5,574.1 L768.8,566.2 L769.9,574.1 L771.4,566.2 L772.6,565.6 L773.8,564.7 L775.0,565.9 L776.1,567.0 L777.3,570.1 L778.5,571.7 L779.6,573.9 L780.8,574.1 L783.2,566.2 L784.4,565.3 L785.6,563.1 L787.1,553.7 L788.7,543.5 L790.7,539.5 L792.3,549.0 L793.9,558.4 L795.0,562.1 L796.1,563.9 L797.5,565.0 L798.9,567.0 L800.5,568.1 L802.0,570.9 L803.2,573.3 L804.4,574.9 L805.6,578.9 L806.8,578.8 L808.6,583.5 L810.2,597.6 L812.2,601.3 L814.3,605.6 L815.9,615.1 L817.0,619.8 L818.1,619.3 L819.3,618.3 L820.5,615.0 L821.7,613.4 L823.2,613.6 L824.8,613.4 L826.1,620.6 L827.9,617.5 L829.1,619.0 L830.3,618.3 L831.9,629.2 L833.8,631.6 L835.3,625.3 L837.4,618.3 L839.4,613.5 L841.3,605.7 L842.5,602.9 L843.6,601.7 L844.8,604.8 L846.0,606.7 L847.2,606.5 L848.4,607.2 L849.5,607.0 L850.7,604.8 L852.6,602.0 L854.2,609.5 L855.4,622.2 L857.0,621.4 L858.6,624.5 L860.1,616.7 L861.7,613.4 L862.9,616.0 L864.0,617.4 L865.2,616.6 L866.4,615.4 L867.6,619.9 L868.8,621.4 L870.3,625.3 L871.9,625.3 L873.0,616.7 L873.9,601.0 L875.0,597.8 L876.1,601.5 L877.1,572.5 L879.0,564.7 L880.5,555.2 L882.1,536.4 L883.7,517.6 L885.2,481.6 L886.4,482.9 L887.6,484.8 L889.2,497.3 L891.5,505.2 L892.3,511.3 L894.7,520.7 L895.9,518.6 L897.0,517.6 L898.2,515.8 L899.4,511.3 L900.0,510.8 L901.6,524.9 L903.1,529.7 L904.7,540.6 L906.3,551.6 L907.8,557.9 L909.4,572.0 L910.6,573.1 L911.8,575.5 L913.3,578.0 L914.9,577.3 L916.5,577.9 L918.1,578.6 L919.4,579.4 L920.7,581.8 L922.0,567.3 L923.5,556.3 L925.4,545.4 L926.6,544.6 L927.9,543.8 L929.5,531.2 L930.6,546.9 L932.2,532.8 L933.8,528.1 L935.3,524.2 L936.9,530.4 L938.5,534.4 L940.0,540.6 L941.6,551.6 L942.7,562.6 L944.3,567.3 L946.3,562.6 L947.5,563.1 L948.7,563.4 L950.5,556.3 L951.5,556.5 L952.6,556.3 L954.6,564.2 L955.7,563.3 L956.8,562.6 L957.8,565.0 L958.9,565.8 L960.4,571.3 L961.6,569.9 L962.8,572.0 L964.0,568.5 L965.1,565.8 L966.7,561.1 L967.9,561.7 L969.1,562.6 L970.6,555.6 L971.8,556.6 L973.0,554.8 L974.6,557.1 L976.1,550.8 L978.0,555.6 L979.3,545.4 L980.8,535.9 L981.9,514.0 L983.2,518.7 L984.8,512.4 L986.3,501.4 L987.9,491.2 L989.8,488.8 L991.0,487.7 L992.3,489.6 L993.9,499.0 L995.2,498.7 L996.5,499.0 L997.7,499.3 L998.9,501.4 L1000.5,509.2 L1002.4,509.2 L1003.9,499.8 L1005.5,487.3 L1006.6,472.0 L1007.5,459.3 L1008.6,470.3 L1010.7,457.8 L1012.2,471.1 L1013.4,470.2 L1014.6,470.3 L1015.8,468.0 L1017.0,464.8 L1019.3,456.2 L1020.5,453.8 L1021.7,450.7 L1022.9,450.6 L1024.0,448.3 L1025.6,440.5 L1026.8,419.3 L1028.4,427.9 L1030.0,435.0 L1031.9,423.2 L1034.2,431.9 L1036.3,421.7 L1037.6,420.9 L1038.9,420.9 L1040.5,432.6 L1042.1,438.9 L1043.2,441.5 L1044.4,443.6 L1045.6,446.5 L1046.8,447.6 L1049.1,454.6 L1051.5,462.5 L1053.8,470.3 L1055.4,487.3 L1056.7,497.5 L1058.6,495.1 L1059.8,495.4 L1060.9,494.3 L1062.1,495.6 L1063.3,497.5 L1064.8,494.3 L1066.0,494.7 L1067.2,493.5 L1068.3,490.9 L1069.5,489.6 L1070.8,484.9 L1071.9,489.6 L1072.7,484.9 L1073.5,491.2 L1074.6,470.0 L1075.0,456.2 L1075.8,438.9 L1077.7,433.4 L1079.0,442.1 L1080.2,452.3 L1081.8,443.6 L1082.9,433.4 L1084.5,431.9 L1086.0,426.4 L1087.6,427.9 L1089.2,420.9 L1090.7,417.7 L1092.3,412.2 L1093.9,401.2 L1095.4,404.4 L1097.0,399.7 L1098.6,397.3 L1100.0,395.8 L1100.4,407.5 L1101.7,420.1 L1102.8,407.5 L1103.9,398.9 L1104.8,418.5 L1105.9,401.2 L1107.0,397.3 L1109.0,399.7 L1110.2,401.8 L1111.4,401.2 L1112.6,401.3 L1113.8,401.2 L1115.8,404.4 L1117.7,407.5 L1118.8,407.8 L1120.0,408.3 L1121.2,408.1 L1122.4,407.5 L1123.6,402.8 L1124.4,395.8 L1125.8,391.8 L1126.6,382.4 L1127.7,382.6 L1128.7,381.6 L1130.5,377.7 L1132.6,373.8 L1133.8,373.5 L1134.9,370.6 L1136.3,370.1 L1137.8,369.8" fill="none" stroke="#1f77b4" stroke-width="1.7" stroke-linejoin="round" stroke-linecap="butt"/>
<path d="M107.8,369.4 L109.0,373.3 L110.2,375.3 L111.5,376.6 L112.8,378.6 L114.1,380.0 L115.7,380.5 L117.2,381.1 L118.8,381.2 L120.1,381.1 L121.5,382.0 L122.8,382.7 L123.9,381.3 L125.1,380.5 L126.7,380.4 L128.2,380.9 L129.8,381.6 L131.1,382.5 L132.4,383.6 L133.8,384.8 L135.3,386.8 L136.9,389.6 L138.5,391.8 L140.1,393.0 L141.6,393.3 L143.1,396.4 L144.7,397.3 L146.1,398.9 L147.4,400.6 L148.8,402.7 L150.2,404.4 L151.5,407.1 L152.9,409.6 L154.2,412.2 L155.8,414.8 L157.3,418.1 L158.9,420.9 L160.5,422.1 L162.0,425.1 L163.6,426.4 L165.0,427.1 L166.3,428.7 L167.7,429.9 L169.1,431.1 L170.4,432.1 L171.6,432.9 L172.9,434.1 L174.1,433.4 L175.4,435.8 L176.9,436.5 L178.5,437.2 L180.1,437.9 L181.6,438.9 L183.0,440.1 L184.3,439.7 L185.7,440.6 L187.1,441.3 L188.4,440.9 L189.8,442.4 L191.1,442.8 L192.7,443.7 L194.2,445.3 L195.8,447.6 L197.1,449.5 L198.4,449.9 L199.7,450.7 L201.1,450.4 L202.4,450.3 L203.8,449.5 L205.2,449.9 L206.8,450.2 L208.3,451.6 L209.9,452.3 L211.2,452.0 L212.4,453.6 L213.7,453.4 L214.9,454.8 L216.2,455.4 L217.8,455.3 L219.3,456.9 L220.8,457.0 L222.4,457.0 L223.7,456.7 L224.9,456.2 L226.2,456.6 L227.4,456.9 L228.7,457.0 L230.1,456.3 L231.4,456.5 L232.8,456.5 L234.2,455.9 L235.4,457.5 L236.6,459.3 L237.9,462.7 L239.2,466.9 L240.5,470.3 L241.8,469.9 L243.1,470.1 L244.4,469.5 L246.0,471.9 L247.6,474.7 L249.1,478.1 L250.7,480.2 L251.9,476.5 L253.1,473.1 L254.2,472.3 L255.4,472.4 L257.0,473.5 L258.6,474.7 L259.9,474.9 L261.2,475.3 L262.5,476.3 L263.8,475.7 L265.1,475.5 L266.4,474.7 L267.9,474.2 L269.5,475.5 L270.7,477.4 L271.9,479.4 L273.2,479.8 L274.5,480.4 L275.8,481.0 L277.4,482.0 L278.9,482.0 L280.5,483.3 L281.8,483.8 L283.2,483.7 L284.5,484.1 L286.1,486.8 L287.6,489.6 L289.1,489.1 L290.7,488.8 L292.0,487.9 L293.4,487.0 L294.7,486.5 L296.2,487.8 L297.8,488.8 L298.9,490.8 L300.0,491.2 L301.6,492.1 L303.1,492.6 L304.7,492.8 L306.0,493.7 L307.3,494.1 L308.6,495.1 L310.2,497.7 L311.7,500.6 L313.3,502.2 L314.9,502.9 L316.5,505.1 L318.1,506.1 L319.6,509.6 L321.2,512.4 L324.3,524.2 L325.9,526.2 L327.5,528.1 L328.8,529.7 L330.1,531.2 L331.4,532.0 L332.7,533.7 L334.0,534.1 L335.3,534.4 L336.9,534.2 L338.5,532.8 L339.8,534.7 L341.1,536.8 L342.4,538.3 L343.9,541.1 L345.5,543.8 L347.9,551.6 L349.0,552.5 L350.2,553.2 L352.6,545.4 L354.2,541.4 L355.8,542.0 L357.3,543.0 L358.6,543.5 L359.9,544.1 L361.2,543.8 L362.5,542.9 L363.8,542.3 L365.1,541.4 L366.4,539.3 L367.8,536.7 L369.1,534.4 L370.4,534.5 L371.7,533.9 L373.0,533.6 L374.6,533.9 L376.1,535.1 L377.4,533.6 L378.8,533.3 L380.1,532.0 L381.6,531.4 L383.2,530.4 L384.5,530.1 L385.8,529.0 L387.1,528.1 L388.4,526.9 L389.8,524.8 L391.1,524.2 L392.6,521.2 L394.2,517.1 L395.8,515.2 L397.3,514.0 L398.9,514.0 L400.5,513.2 L401.6,513.9 L402.8,515.5 L404.4,514.7 L405.9,514.5 L407.5,514.0 L408.8,513.3 L410.2,512.6 L411.5,512.4 L413.1,511.9 L414.6,511.1 L416.2,510.0 L417.5,508.1 L418.8,505.7 L420.1,503.8 L421.4,502.7 L422.7,502.0 L424.0,501.4 L425.2,501.2 L426.4,501.4 L427.7,502.4 L429.0,503.8 L430.3,504.5 L431.6,503.7 L432.9,502.6 L434.2,502.2 L435.5,501.4 L436.8,501.6 L438.1,500.6 L439.4,500.4 L440.8,500.2 L442.1,499.8 L443.4,500.7 L444.7,501.6 L446.0,502.2 L447.3,502.0 L448.6,502.1 L449.9,501.4 L452.3,510.0 L453.9,513.9 L455.4,517.1 L456.7,517.5 L458.0,520.2 L459.3,521.8 L460.6,521.9 L462.0,519.2 L463.3,518.7 L464.9,517.9 L466.4,517.1 L467.9,517.9 L469.5,517.9 L470.7,515.5 L471.9,513.2 L473.2,514.5 L474.5,514.2 L475.8,515.5 L477.1,515.3 L478.4,516.0 L479.7,516.3 L481.3,516.8 L482.9,517.9 L484.2,516.7 L485.5,516.5 L486.8,515.5 L488.1,515.6 L489.4,515.5 L490.7,515.5 L492.0,516.1 L493.4,517.2 L494.7,517.9 L495.9,519.8 L497.0,521.8 L498.5,523.5 L500.0,525.7 L501.8,526.6 L503.5,527.0 L504.3,608.8 L505.6,608.3 L506.9,607.6 L508.1,607.3 L509.4,606.4 L510.7,605.8 L511.9,606.0 L513.2,605.7 L514.4,606.3 L515.7,605.6 L517.0,606.0 L518.2,606.8 L519.5,606.7 L520.7,606.1 L522.0,606.4 L523.3,605.8 L524.5,606.3 L525.8,605.8 L527.0,605.7 L528.3,605.6 L529.8,604.8 L531.4,605.0 L533.0,604.5 L534.5,604.0 L536.1,603.9 L537.6,603.7 L539.2,603.3 L540.5,602.7 L541.9,601.9 L543.2,602.5 L544.5,603.2 L545.8,603.8 L547.1,604.8 L548.7,605.4 L550.2,606.8 L551.8,607.2 L553.4,606.6 L554.9,606.7 L556.5,605.6 L558.1,605.4 L559.6,605.3 L561.2,604.8 L562.8,605.0 L564.3,605.1 L565.9,604.8 L567.5,604.8 L569.0,606.3 L570.6,606.4 L572.2,607.5 L573.8,608.1 L575.4,609.5 L577.0,610.8 L578.5,611.8 L580.1,612.7 L581.5,613.4 L582.9,613.4 L584.2,613.4 L585.6,613.5 L587.0,612.8 L588.4,614.2 L589.7,614.1 L591.1,613.5 L592.7,614.3 L594.2,614.7 L595.8,615.0 L597.4,616.0 L598.9,615.7 L600.5,616.6 L602.1,617.1 L603.6,617.1 L605.2,617.4 L606.8,616.5 L608.3,616.5 L609.9,615.8 L611.2,614.9 L612.5,614.4 L613.8,612.7 L615.1,612.8 L616.4,611.5 L617.7,611.9 L619.3,611.6 L620.8,612.9 L622.4,613.5 L624.0,613.9 L625.6,614.1 L627.2,615.0 L628.8,615.2 L630.3,616.5 L631.9,617.4 L633.5,617.7 L635.0,618.7 L636.6,619.7 L638.2,620.3 L639.7,620.3 L641.3,620.5 L642.6,621.0 L643.9,621.7 L645.2,622.9 L646.5,624.1 L647.8,626.2 L649.1,626.8 L650.7,627.1 L652.2,628.6 L653.8,628.4 L655.4,628.4 L657.0,628.8 L658.6,629.2 L660.2,629.5 L661.7,628.9 L663.3,629.2 L664.9,630.0 L666.4,630.2 L668.0,631.5 L669.6,632.6 L671.1,633.6 L672.7,633.9 L674.3,633.4 L675.8,633.4 L677.4,633.1 L679.0,632.9 L680.5,632.2 L682.1,633.1 L683.4,635.5 L684.7,636.0 L686.0,637.0 L687.3,636.8 L688.7,636.1 L690.0,635.4 L691.6,635.2 L693.1,635.9 L694.7,634.7 L696.0,634.3 L697.4,635.2 L698.7,635.4 L700.0,635.9 L701.5,637.2 L703.1,638.7 L704.7,639.7 L706.3,640.2 L707.9,639.4 L709.4,638.7 L711.0,638.7 L712.5,637.0 L714.1,636.3 L715.7,637.7 L717.3,638.7 L718.9,639.6 L720.4,640.0 L722.0,640.2 L723.6,641.1 L725.1,640.5 L726.7,641.0 L728.3,641.1 L729.8,640.7 L731.4,640.2 L732.7,639.6 L734.0,638.9 L735.3,638.7 L736.5,637.5 L737.7,635.5 L739.0,635.5 L740.3,635.9 L741.6,636.3 L743.2,637.9 L744.7,640.2 L747.1,632.4 L748.3,632.4 L749.5,631.1 L750.8,631.8 L752.1,632.3 L753.4,633.2 L755.0,634.3 L756.5,635.5 L758.1,636.6 L759.7,637.9 L761.2,636.7 L762.8,635.5 L764.0,633.3 L765.1,632.4 L766.2,631.5 L767.2,631.6 L768.3,621.4 L769.9,626.1 L771.0,627.9 L772.2,629.2 L773.4,631.6 L774.6,633.2 L775.8,634.3 L776.9,636.3 L778.1,637.5 L779.3,638.7 L780.5,639.2 L781.6,640.2 L782.9,639.1 L784.3,639.6 L785.6,639.5 L787.2,639.4 L788.7,640.2 L789.9,643.3 L791.1,645.7 L792.6,650.4 L794.2,651.5 L795.8,652.8 L797.3,653.9 L798.9,655.1 L800.5,655.3 L802.0,656.7 L803.6,658.4 L805.2,659.9 L806.4,660.7 L807.5,663.0 L809.1,667.7 L810.7,672.4 L812.7,670.8 L814.0,672.1 L815.4,673.2 L817.0,675.0 L818.5,675.6 L819.9,675.1 L821.2,675.9 L822.6,676.2 L824.0,675.6 L825.6,675.7 L827.1,676.3 L828.7,676.0 L830.3,675.9 L831.8,675.5 L833.4,675.6 L834.6,672.4 L835.8,670.8 L837.3,669.6 L838.9,669.3 L840.5,668.3 L842.1,668.5 L843.2,671.0 L844.4,671.6 L846.0,672.9 L847.6,674.0 L848.9,674.5 L850.2,674.5 L851.5,675.6 L852.8,676.3 L854.1,675.1 L855.4,675.6 L857.0,670.1 L858.1,667.5 L859.3,663.8 L860.5,661.1 L861.7,657.5 L862.9,655.2 L864.0,652.8 L865.2,651.0 L866.4,649.7 L868.0,649.7 L869.5,649.7 L871.1,648.8 L872.7,648.9 L874.2,648.4 L875.8,647.3 L877.1,644.9 L878.6,647.3 L880.5,643.4 L882.1,634.0 L883.4,619.8 L884.5,615.9 L885.6,618.1 L886.8,619.0 L888.0,622.1 L889.2,624.5 L890.8,627.3 L892.3,629.2 L893.8,632.1 L895.4,635.5 L896.6,634.5 L897.8,633.2 L898.9,632.0 L900.0,631.6 L901.5,633.3 L903.1,635.4 L904.4,636.0 L905.8,636.9 L907.1,636.2 L908.4,635.7 L909.7,635.2 L911.0,634.7 L912.5,633.5 L914.1,633.9 L915.4,634.5 L916.8,634.5 L918.1,635.4 L919.4,635.9 L920.7,636.9 L922.0,638.6 L923.5,640.2 L925.1,641.7 L926.7,641.1 L928.3,640.9 L929.5,639.2 L930.6,637.0 L931.8,634.6 L933.0,632.3 L934.1,631.5 L935.3,630.7 L936.5,630.1 L937.7,628.4 L939.2,629.9 L940.4,633.0 L941.6,635.4 L943.2,636.9 L944.7,637.8 L946.3,638.8 L947.9,638.6 L949.5,638.3 L951.0,637.8 L952.6,639.4 L954.2,641.7 L955.8,643.0 L957.3,644.9 L958.6,644.8 L959.9,646.0 L961.2,646.4 L962.5,645.5 L963.8,645.1 L965.1,644.1 L966.4,643.9 L967.8,642.7 L969.1,642.5 L970.4,641.8 L971.7,641.4 L973.0,640.1 L974.3,639.1 L975.6,638.4 L976.9,637.0 L978.5,635.4 L980.1,633.9 L981.7,631.5 L983.2,629.9 L984.8,629.1 L986.3,628.4 L987.5,628.0 L988.7,629.2 L990.2,631.0 L991.8,632.3 L993.4,632.9 L995.0,633.9 L996.5,634.4 L998.1,633.9 L999.7,635.8 L1001.3,638.6 L1002.8,638.7 L1004.4,638.6 L1005.6,637.5 L1006.8,636.2 L1008.0,638.1 L1009.1,640.1 L1010.7,642.3 L1012.2,644.1 L1013.5,644.1 L1014.9,644.2 L1016.2,644.9 L1017.5,644.8 L1018.8,645.7 L1020.1,646.4 L1021.2,647.7 L1022.4,649.6 L1023.6,649.7 L1024.8,649.6 L1026.0,647.9 L1027.2,646.4 L1028.5,645.9 L1029.8,645.6 L1031.1,645.6 L1032.4,644.3 L1033.7,644.5 L1035.0,644.1 L1036.5,643.5 L1038.1,642.5 L1039.7,643.2 L1041.3,644.9 L1042.6,644.5 L1043.9,644.6 L1045.2,644.1 L1046.8,643.8 L1048.3,644.2 L1049.9,644.1 L1051.5,643.7 L1053.0,644.6 L1054.6,643.3 L1056.2,642.3 L1057.8,640.1 L1059.3,639.0 L1060.9,637.0 L1062.2,636.7 L1063.5,637.3 L1064.8,637.0 L1066.1,637.2 L1067.5,637.7 L1068.8,637.8 L1070.1,637.3 L1071.4,637.3 L1072.7,637.0 L1074.3,636.7 L1075.8,637.1 L1077.4,637.0 L1079.0,639.7 L1080.5,640.9 L1082.1,641.1 L1083.7,642.5 L1085.2,641.6 L1086.8,641.7 L1088.4,642.7 L1090.0,643.3 L1091.5,644.4 L1093.1,644.9 L1094.7,645.5 L1096.2,646.4 L1097.5,647.2 L1098.7,647.6 L1100.0,648.0 L1101.2,650.6 L1102.3,651.2 L1103.5,651.3 L1104.7,652.3 L1105.9,652.1 L1107.5,652.6 L1109.0,653.7 L1110.6,653.7 L1112.2,653.2 L1113.6,653.1 L1114.9,652.9 L1116.3,653.8 L1117.7,655.3 L1119.2,656.7 L1120.8,657.6 L1122.4,657.9 L1124.0,659.2 L1125.2,659.2 L1126.3,660.4 L1127.9,660.6 L1129.5,660.0 L1131.0,659.2 L1132.6,659.2 L1133.8,660.3 L1134.9,660.0 L1136.1,661.0 L1137.3,661.1" fill="none" stroke="#ff7f0e" stroke-width="1.7" stroke-linejoin="round" stroke-linecap="butt"/>
<path d="M107.5,652.7 L109.4,660.0 L111.5,669.0 L112.8,671.3 L114.0,673.5 L115.8,674.8 L117.5,675.0 L119.0,674.3 L120.5,674.7 L122.0,674.0 L123.5,672.3 L125.1,666.0 L126.7,663.9 L128.3,662.1 L129.6,661.2 L130.9,661.3 L132.2,659.8 L133.8,660.1 L135.3,660.3 L136.9,660.6 L138.2,661.4 L139.5,662.1 L140.8,662.1 L142.1,661.8 L143.4,661.8 L144.7,661.3 L146.0,661.7 L147.4,662.8 L148.7,663.7 L150.0,663.8 L151.3,663.7 L152.6,664.5 L153.9,664.7 L155.2,665.4 L156.5,666.8 L157.7,664.0 L158.9,661.3 L160.2,661.5 L161.5,661.7 L162.8,662.1 L164.1,661.4 L165.4,660.0 L166.7,659.8 L168.3,660.2 L169.9,660.6 L171.4,661.8 L173.0,662.9 L174.3,663.2 L175.6,662.6 L176.9,662.9 L178.5,661.9 L180.1,661.3 L181.4,661.3 L182.7,662.7 L184.0,663.7 L185.6,665.6 L187.1,669.2 L188.4,668.4 L189.8,669.1 L191.1,668.4 L192.4,668.1 L193.7,669.8 L195.0,670.0 L196.6,670.4 L198.1,670.4 L199.7,670.8 L201.0,669.9 L202.3,668.9 L203.6,667.6 L204.9,668.6 L206.2,668.6 L207.5,669.2 L208.8,669.2 L210.2,669.5 L211.5,670.0 L213.1,669.2 L214.6,669.2 L216.2,672.3 L217.8,669.9 L219.3,667.6 L220.6,667.0 L221.9,667.5 L223.2,666.8 L224.5,666.1 L225.9,666.4 L227.2,666.8 L228.3,663.3 L229.5,660.6 L231.1,657.0 L232.7,655.1 L233.8,653.5 L235.0,650.4 L236.6,646.7 L238.1,644.9 L239.7,642.8 L241.3,640.9 L242.9,637.9 L244.4,635.4 L245.7,636.6 L247.1,635.7 L248.4,637.0 L249.9,636.3 L251.5,634.7 L252.7,631.3 L253.8,628.4 L255.4,628.7 L257.0,629.2 L258.6,629.7 L260.1,630.7 L261.7,631.8 L263.3,632.3 L264.5,630.3 L265.6,629.2 L266.8,625.6 L268.0,622.1 L269.1,622.6 L270.3,622.9 L271.5,626.4 L272.7,628.4 L273.9,625.1 L275.0,623.7 L276.6,622.7 L278.2,620.5 L279.8,620.5 L281.3,619.7 L282.9,620.3 L284.5,621.3 L285.6,624.2 L286.8,626.8 L288.4,627.0 L290.0,627.6 L291.1,626.3 L292.3,623.7 L293.9,623.0 L295.4,622.1 L296.9,621.5 L298.5,620.9 L300.0,620.5 L301.6,616.9 L303.1,613.5 L304.4,611.9 L305.8,610.0 L307.1,608.8 L308.4,609.6 L309.7,608.0 L311.0,608.8 L312.3,608.4 L313.6,610.8 L314.9,611.9 L316.2,612.1 L317.5,612.6 L318.8,612.7 L320.1,613.7 L321.5,614.7 L322.8,615.8 L324.4,616.3 L325.9,616.6 L328.3,624.5 L329.9,626.0 L331.4,626.8 L332.6,627.4 L333.8,628.4 L335.3,625.9 L336.9,623.7 L338.4,624.1 L340.0,622.9 L341.6,624.3 L343.2,625.2 L344.4,628.0 L345.5,631.5 L346.7,634.8 L347.9,636.2 L349.0,636.1 L350.2,635.4 L351.4,632.4 L352.6,629.9 L354.2,622.9 L355.3,630.7 L357.3,628.4 L358.6,628.2 L359.9,629.1 L361.2,629.2 L362.5,629.4 L363.8,629.8 L365.1,630.7 L366.4,631.0 L367.8,632.1 L369.1,633.1 L370.4,634.3 L371.7,634.5 L373.0,635.4 L374.3,635.6 L375.6,637.3 L376.9,637.8 L378.2,638.6 L379.5,639.7 L380.8,640.1 L382.0,640.2 L383.2,639.4 L384.4,637.3 L385.6,635.4 L387.1,634.6 L388.7,633.9 L389.9,631.5 L391.1,629.2 L392.2,629.1 L393.4,629.9 L394.8,628.6 L396.1,626.8 L397.5,629.3 L398.9,630.7 L400.4,632.0 L402.0,633.1 L403.6,633.8 L405.2,634.5 L406.8,635.4 L408.4,633.9 L409.9,633.1 L411.2,632.8 L412.5,632.9 L413.8,633.1 L415.4,632.4 L417.0,632.3 L418.6,630.6 L420.1,629.2 L421.5,627.0 L422.8,626.0 L424.2,628.1 L425.6,629.9 L426.9,631.5 L428.2,632.6 L429.5,634.7 L430.8,634.3 L432.1,635.7 L433.4,636.2 L435.0,637.8 L436.6,638.6 L437.9,638.3 L439.2,638.4 L440.5,638.6 L441.8,638.9 L443.1,639.9 L444.4,640.1 L446.0,640.1 L447.6,640.9 L448.9,638.5 L450.2,635.4 L452.3,642.5 L453.5,642.4 L454.6,642.5 L455.8,640.9 L457.0,638.6 L458.1,639.0 L459.3,639.4 L460.9,635.8 L462.5,632.3 L464.1,629.8 L465.6,628.4 L467.2,627.7 L468.8,627.6 L471.9,618.2 L473.4,619.2 L475.0,620.5 L476.6,621.6 L478.2,622.1 L479.5,621.4 L480.8,620.2 L482.1,619.7 L483.6,618.7 L485.2,617.4 L487.6,609.5 L490.0,600.1 L491.5,589.1 L493.1,579.7 L494.7,576.0 L495.9,575.2 L497.0,573.6 L498.2,575.1 L499.4,576.8 L500.0,578.0 L501.6,578.0 L503.1,578.3 L504.7,577.0 L506.3,576.0 L507.9,576.7 L509.4,576.8 L511.0,577.8 L512.6,578.3 L514.2,577.2 L515.7,576.8 L517.2,578.1 L518.8,579.1 L520.4,580.1 L522.0,581.5 L523.3,581.6 L524.6,582.9 L525.9,582.8 L527.1,583.5 L528.3,583.6 L529.5,582.0 L530.6,581.0 L532.2,580.4 L533.7,579.9 L535.3,579.1 L536.9,578.6 L538.4,578.5 L540.0,578.3 L541.3,578.6 L542.7,577.6 L544.0,578.3 L545.5,579.8 L547.1,581.0 L549.0,585.0 L550.4,585.0 L551.8,584.4 L553.1,583.9 L554.4,582.4 L555.7,582.2 L557.0,581.3 L558.4,579.8 L559.7,579.1 L561.3,578.6 L562.8,577.8 L564.4,576.8 L566.0,576.4 L567.5,575.4 L569.1,575.2 L570.7,575.5 L572.2,576.6 L573.8,576.8 L575.4,576.9 L576.9,578.0 L578.5,578.3 L580.1,578.8 L581.6,578.7 L583.2,579.1 L584.8,579.8 L586.3,578.6 L587.9,578.3 L589.5,579.2 L591.0,577.5 L592.6,578.3 L594.2,577.7 L595.7,579.2 L597.3,579.1 L598.9,579.6 L600.4,579.5 L602.0,579.9 L603.6,579.6 L605.2,578.6 L606.8,579.1 L608.4,578.6 L609.9,578.2 L611.5,578.3 L613.1,578.2 L614.6,578.7 L616.2,578.3 L617.8,578.3 L619.3,578.4 L620.9,578.3 L622.5,577.8 L624.0,577.6 L625.6,577.5 L627.2,577.8 L628.7,577.9 L630.3,578.3 L631.5,578.1 L632.7,576.8 L634.2,571.3 L635.5,570.7 L636.8,571.5 L638.1,570.5 L639.7,569.6 L641.3,569.9 L642.9,568.9 L644.5,568.7 L646.0,569.8 L647.6,569.2 L649.2,569.2 L650.7,569.2 L652.3,568.9 L653.9,570.0 L655.4,570.2 L657.0,571.3 L658.6,570.6 L660.1,570.0 L661.7,570.5 L663.3,571.3 L664.8,570.8 L666.4,571.3 L668.0,571.6 L669.5,572.3 L671.1,572.8 L672.7,573.1 L674.2,571.1 L675.8,571.3 L677.4,570.9 L678.9,570.1 L680.5,569.7 L682.1,570.2 L683.6,569.5 L685.2,570.5 L686.8,570.8 L688.4,571.8 L690.0,572.0 L691.6,572.1 L693.1,571.6 L694.7,570.5 L696.0,570.2 L697.4,570.5 L698.7,570.5 L700.0,570.5 L701.3,571.1 L702.6,572.3 L703.9,574.1 L705.5,573.2 L707.1,571.7 L708.7,571.0 L710.2,570.2 L711.5,568.3 L712.8,567.0 L714.1,564.7 L715.7,565.4 L717.3,567.0 L718.6,567.2 L719.9,567.0 L721.2,567.0 L722.5,566.7 L723.8,566.7 L725.1,566.2 L726.4,565.8 L727.7,565.3 L729.0,564.7 L730.3,564.5 L731.7,564.9 L733.0,563.9 L734.3,562.4 L735.6,561.6 L736.9,559.9 L738.2,560.7 L739.5,560.8 L740.8,561.5 L742.1,561.6 L743.4,560.6 L744.7,560.7 L746.3,560.0 L747.9,558.4 L749.2,557.8 L750.5,557.7 L751.8,557.6 L753.1,556.7 L754.4,555.9 L755.7,554.5 L758.1,562.3 L759.2,564.2 L760.4,565.4 L761.6,565.8 L762.8,565.4 L764.0,567.3 L765.1,569.4 L767.5,557.6 L768.7,558.4 L769.9,559.9 L771.5,561.3 L773.0,562.3 L774.5,564.0 L776.1,565.4 L777.7,567.8 L779.3,570.9 L780.5,572.1 L781.6,572.5 L783.2,569.8 L784.8,567.0 L786.3,563.9 L787.9,561.5 L789.5,563.6 L791.1,565.4 L792.2,566.5 L793.4,568.6 L795.0,567.4 L796.5,567.0 L797.8,567.2 L799.2,566.4 L800.5,567.0 L802.0,567.4 L803.6,567.8 L805.2,568.8 L806.8,570.9 L808.3,572.8 L809.9,574.1 L811.0,572.6 L812.2,571.7 L813.8,574.1 L815.4,576.4 L816.7,577.1 L818.0,578.9 L819.3,580.4 L820.6,580.2 L821.9,579.5 L823.2,578.8 L824.5,577.5 L825.9,578.1 L827.2,577.2 L828.5,578.1 L829.8,578.1 L831.1,578.8 L832.7,579.4 L834.2,578.8 L835.4,576.0 L836.6,574.1 L838.2,572.5 L839.7,570.9 L841.3,569.4 L842.9,567.0 L844.5,565.2 L846.0,562.3 L847.5,561.3 L849.1,559.2 L850.4,557.4 L851.8,555.8 L853.1,555.2 L854.6,556.8 L857.0,546.6 L858.1,543.6 L859.3,540.3 L860.5,538.2 L861.7,537.2 L863.2,537.1 L864.8,537.2 L866.4,538.2 L868.0,540.3 L869.1,541.9 L870.3,542.7 L871.5,541.0 L872.7,538.8 L874.3,533.3 L875.5,533.5 L876.6,533.3 L878.2,528.5 L879.7,527.0 L881.3,517.6 L882.9,505.0 L884.5,487.9 L886.0,481.6 L887.2,482.0 L888.4,482.4 L889.5,484.0 L890.7,485.6 L892.0,486.2 L893.4,487.3 L894.7,487.9 L895.9,486.0 L897.0,484.0 L898.2,482.2 L899.4,480.1 L900.0,478.0 L901.3,478.3 L902.6,479.7 L903.9,479.4 L905.5,479.8 L907.0,480.5 L908.6,480.2 L910.2,479.2 L911.8,477.1 L913.1,475.9 L914.4,474.7 L915.7,474.5 L917.3,475.0 L918.8,474.3 L920.4,474.5 L921.6,472.4 L922.8,470.3 L924.3,468.6 L925.9,467.2 L927.1,466.5 L928.3,465.6 L929.8,457.8 L932.2,449.1 L933.4,445.9 L934.5,443.6 L935.7,441.6 L936.9,439.7 L938.5,442.1 L940.0,449.1 L941.2,451.7 L942.4,454.6 L943.5,455.8 L944.7,457.0 L946.3,454.9 L947.9,454.6 L949.5,454.2 L951.0,453.1 L952.6,453.6 L954.2,453.8 L955.8,452.0 L957.3,451.5 L958.8,452.0 L960.4,453.1 L961.6,453.1 L962.8,453.1 L964.3,451.0 L965.9,448.3 L967.5,448.0 L969.1,447.6 L971.4,440.5 L973.0,440.3 L974.6,438.9 L976.2,438.2 L977.7,437.4 L979.3,427.9 L980.8,423.2 L982.4,415.4 L983.6,411.4 L984.8,408.3 L986.0,406.9 L987.1,406.0 L988.3,405.1 L989.5,403.6 L991.0,403.8 L992.6,404.4 L994.2,404.3 L995.8,403.6 L997.3,403.5 L998.9,402.5 L1000.1,403.7 L1001.3,404.4 L1002.8,403.6 L1004.4,402.0 L1006.0,397.3 L1007.1,394.9 L1008.3,392.6 L1009.5,391.0 L1010.7,389.5 L1011.9,389.7 L1013.0,390.3 L1014.6,388.9 L1016.2,387.9 L1017.8,386.1 L1019.3,385.5 L1020.9,384.8 L1022.4,388.7 L1023.6,386.9 L1024.8,385.5 L1026.0,382.7 L1027.2,380.8 L1028.8,378.7 L1030.3,377.7 L1031.8,375.8 L1033.4,373.8 L1034.6,373.2 L1035.8,372.2 L1036.9,370.9 L1038.1,369.8 L1039.3,371.5 L1040.5,372.2 L1041.7,373.4 L1042.9,373.8 L1044.2,374.5 L1045.5,374.1 L1046.8,374.6 L1048.3,376.0 L1049.9,378.5 L1051.5,381.5 L1053.1,384.0 L1054.6,389.5 L1055.7,398.9 L1057.2,399.0 L1058.6,398.9 L1060.2,399.6 L1061.7,399.7 L1063.2,400.6 L1064.8,401.2 L1066.4,402.9 L1068.0,403.6 L1069.5,403.9 L1071.1,404.4 L1072.5,405.1 L1073.9,405.2 L1075.2,402.8 L1076.6,401.2 L1077.8,398.3 L1079.0,397.3 L1080.5,396.3 L1082.1,395.8 L1083.4,396.1 L1084.7,394.6 L1086.0,395.0 L1087.2,396.6 L1088.4,397.3 L1089.6,398.2 L1090.7,399.7 L1092.3,397.6 L1093.9,395.8 L1095.5,394.6 L1097.0,393.4 L1098.5,393.1 L1100.0,392.6 L1101.2,395.8 L1102.3,396.1 L1103.5,397.3 L1104.7,398.2 L1105.9,398.9 L1107.1,398.7 L1108.3,398.1 L1109.8,397.6 L1111.4,396.5 L1112.6,395.8 L1113.8,395.8 L1114.9,397.5 L1116.1,398.1 L1117.3,399.7 L1118.5,399.7 L1120.0,401.1 L1121.6,400.5 L1123.2,400.0 L1124.7,400.5 L1125.9,400.9 L1127.1,401.2 L1128.3,401.1 L1129.5,402.5 L1131.0,402.4 L1132.6,402.0 L1133.8,402.0 L1134.9,401.6 L1136.3,401.3 L1137.8,402.0" fill="none" stroke="#2ca02c" stroke-width="1.7" stroke-linejoin="round" stroke-linecap="butt"/>
<path d="M107.5,435.8 L109.4,443.6 L111.0,456.2 L112.6,469.5 L114.9,479.4 L116.5,482.6 L117.7,481.0 L118.8,479.4 L120.4,476.3 L121.6,475.8 L122.8,474.7 L123.5,456.2 L124.7,453.5 L125.9,451.5 L127.1,451.4 L128.3,450.7 L129.8,442.0 L131.4,442.3 L133.0,441.3 L135.3,449.9 L136.9,452.3 L138.4,448.7 L140.0,444.4 L141.2,444.8 L142.4,442.8 L144.7,435.8 L146.3,442.0 L147.9,435.8 L149.2,434.9 L150.5,435.3 L151.8,435.0 L153.4,436.8 L154.9,439.7 L156.5,440.7 L158.1,442.8 L159.6,440.7 L161.2,438.9 L162.4,435.9 L163.6,432.6 L165.1,426.4 L166.7,431.1 L168.3,432.2 L169.9,432.6 L171.1,434.2 L172.2,435.0 L174.6,427.2 L176.9,437.4 L178.5,430.3 L180.1,434.7 L181.6,435.8 L182.8,435.6 L184.0,434.2 L185.3,434.8 L186.6,438.0 L187.9,439.7 L189.5,435.3 L191.1,431.9 L192.6,430.3 L194.2,429.5 L195.8,431.0 L197.3,430.4 L198.9,431.1 L200.1,429.6 L201.3,431.1 L202.4,429.6 L203.6,427.6 L205.2,429.5 L206.8,431.9 L208.4,434.1 L209.9,438.1 L211.4,437.8 L213.0,438.9 L214.6,438.0 L216.2,438.1 L217.7,428.7 L219.0,427.9 L220.4,426.8 L221.7,426.4 L223.2,430.0 L224.8,433.4 L226.4,434.8 L227.9,433.4 L229.5,413.8 L230.7,412.4 L231.9,412.2 L233.4,399.7 L235.0,399.7 L236.6,395.1 L238.1,391.8 L239.7,388.9 L241.3,386.3 L242.9,391.0 L244.4,389.5 L245.6,391.5 L246.8,391.8 L249.1,403.6 L250.3,403.9 L251.5,405.2 L253.1,393.4 L254.2,369.4 L255.4,421.7 L257.0,423.1 L258.6,422.4 L260.1,422.6 L261.7,424.8 L262.9,424.8 L264.0,426.4 L265.2,424.0 L266.4,421.7 L268.0,423.2 L269.5,449.9 L271.1,465.6 L272.7,479.4 L273.5,484.1 L274.6,482.3 L275.8,481.8 L277.0,483.3 L278.2,485.7 L279.7,488.8 L280.5,496.7 L282.1,503.0 L283.6,505.7 L285.2,507.7 L286.8,515.5 L288.0,517.6 L289.2,518.7 L290.4,517.6 L291.5,516.3 L292.7,512.5 L293.9,509.2 L295.4,508.7 L297.0,506.1 L298.2,506.0 L299.4,505.3 L300.0,499.8 L301.2,497.3 L302.4,495.1 L304.7,485.7 L306.3,474.7 L307.1,465.6 L309.1,462.2 L310.5,464.8 L311.8,465.6 L312.6,470.0 L314.1,479.4 L315.7,488.8 L316.9,488.1 L318.1,488.8 L319.6,480.2 L321.2,487.3 L322.4,489.0 L323.5,490.4 L325.1,495.1 L326.7,501.4 L328.3,515.5 L330.6,526.5 L332.2,528.6 L333.8,529.7 L336.1,517.9 L337.3,517.5 L338.5,517.1 L340.5,514.0 L342.4,518.7 L343.5,521.4 L344.7,524.9 L346.3,532.8 L347.9,548.5 L349.9,557.1 L351.5,543.8 L352.6,521.8 L353.8,491.2 L354.9,512.4 L356.5,507.7 L357.7,507.6 L358.9,506.9 L360.0,506.9 L361.2,507.7 L362.8,499.0 L364.4,498.2 L365.9,498.3 L367.1,495.9 L368.3,495.1 L369.9,506.1 L371.4,518.7 L373.0,510.0 L374.2,512.2 L375.4,512.4 L376.5,510.0 L377.7,508.5 L379.3,521.8 L380.5,532.8 L382.4,523.4 L384.0,515.5 L386.3,506.1 L387.5,504.6 L388.7,501.4 L390.3,495.1 L391.4,485.7 L393.4,483.3 L395.0,473.1 L396.5,479.4 L397.6,457.8 L398.9,466.4 L400.1,467.1 L401.3,467.2 L402.8,470.0 L404.4,477.8 L406.0,484.1 L407.1,498.3 L408.0,461.7 L409.9,464.8 L411.0,458.5 L411.8,468.8 L413.0,460.1 L414.2,457.2 L415.4,454.6 L417.0,451.5 L418.5,443.6 L420.1,442.0 L421.2,442.8 L422.8,432.6 L424.8,436.6 L426.0,435.9 L427.2,434.2 L428.4,432.6 L430.0,442.0 L431.9,442.0 L433.4,447.6 L435.8,455.4 L437.0,455.2 L438.1,454.6 L439.3,453.5 L440.5,452.3 L442.1,453.6 L443.6,457.0 L445.2,464.0 L446.4,466.1 L447.6,468.0 L449.1,462.5 L450.2,456.2 L451.5,468.8 L452.6,490.4 L454.0,489.5 L455.4,487.3 L457.0,483.3 L458.9,488.1 L460.4,476.3 L461.7,479.4 L463.6,471.0 L464.8,488.8 L466.0,490.4 L467.2,491.2 L469.2,495.1 L470.8,479.4 L471.9,460.9 L473.5,457.8 L475.0,471.9 L476.6,473.4 L478.2,473.5 L479.4,473.0 L480.5,470.3 L482.1,465.6 L483.3,465.9 L484.5,465.6 L486.0,471.1 L487.2,472.2 L488.4,470.3 L489.2,477.1 L490.0,464.0 L491.5,446.8 L492.8,431.1 L494.7,431.1 L495.4,435.0 L497.0,421.7 L498.6,404.4 L500.0,393.4 L500.8,391.0 L501.6,434.2 L503.1,435.8 L504.7,427.9 L505.9,423.3 L507.1,420.9 L508.2,421.1 L509.4,421.7 L510.6,422.9 L511.8,427.9 L513.0,429.7 L514.1,430.3 L515.3,429.6 L516.5,428.7 L518.5,420.9 L519.6,424.8 L521.2,420.9 L522.8,431.1 L523.9,429.5 L525.1,440.5 L526.7,437.4 L528.3,447.6 L529.5,449.9 L530.6,443.6 L531.9,456.2 L533.3,447.6 L534.2,456.2 L534.9,445.2 L535.8,476.3 L537.7,477.1 L538.5,517.1 L538.9,545.4 L540.0,547.4 L541.1,546.9 L542.2,543.9 L543.2,541.4 L544.7,546.9 L547.1,556.3 L548.7,557.5 L550.2,561.8 L551.4,563.6 L552.6,563.4 L554.2,559.6 L555.7,557.9 L557.3,553.8 L558.9,551.6 L560.4,550.8 L561.5,552.7 L562.5,554.8 L564.0,543.8 L565.5,533.6 L567.5,539.1 L569.5,549.3 L571.4,543.0 L572.5,540.7 L573.5,537.5 L575.4,543.8 L576.5,546.6 L577.7,550.1 L580.1,558.7 L581.2,557.6 L582.4,556.3 L584.0,556.1 L585.6,558.7 L586.8,559.2 L587.9,557.1 L589.1,559.0 L590.3,561.1 L592.3,562.6 L593.7,546.1 L595.8,547.7 L597.6,560.3 L598.7,558.4 L599.7,556.3 L601.3,557.9 L602.5,556.0 L603.6,553.2 L604.8,551.8 L606.0,550.1 L607.1,549.0 L608.3,547.7 L610.4,556.3 L611.8,550.8 L613.8,548.5 L616.2,540.6 L618.1,530.4 L620.1,532.8 L621.7,537.5 L623.7,542.2 L625.6,539.1 L627.2,535.9 L628.4,537.2 L629.5,539.9 L630.7,541.0 L631.9,542.2 L633.0,544.1 L634.2,545.4 L635.4,544.6 L636.6,542.2 L638.1,540.6 L639.7,528.9 L641.3,532.0 L643.2,522.6 L645.2,521.8 L647.3,531.2 L649.1,535.9 L650.3,535.1 L651.5,534.4 L652.6,535.6 L653.8,536.7 L655.0,535.8 L656.2,534.4 L657.4,537.9 L658.6,540.6 L660.1,532.0 L661.7,524.9 L662.8,520.2 L664.5,528.9 L666.1,528.1 L668.0,538.3 L669.5,546.9 L671.1,550.1 L672.4,557.9 L673.9,550.8 L675.8,550.8 L677.4,555.6 L679.0,556.5 L680.5,557.1 L681.7,558.9 L682.9,561.1 L684.5,570.5 L686.0,576.8 L687.6,557.9 L689.2,553.2 L690.7,543.8 L692.3,535.9 L693.5,534.0 L694.7,532.8 L695.9,536.4 L697.0,538.3 L698.6,545.4 L700.0,554.8 L701.2,556.8 L702.4,558.4 L704.7,565.4 L705.9,567.4 L707.1,569.4 L709.4,577.2 L711.8,586.6 L713.3,592.1 L714.5,596.7 L715.7,596.1 L716.9,599.1 L718.1,600.8 L719.2,602.6 L720.4,603.1 L721.6,605.2 L722.8,607.0 L724.0,607.8 L725.1,610.2 L726.7,614.0 L728.3,616.0 L729.5,615.7 L730.6,615.5 L732.2,619.0 L733.8,616.7 L735.8,601.0 L737.4,582.7 L739.2,581.9 L740.5,586.6 L742.1,578.8 L744.0,570.9 L746.3,563.1 L747.5,560.0 L748.7,556.8 L749.9,555.6 L751.0,552.9 L752.0,551.3 L753.1,548.2 L754.9,534.8 L756.5,517.6 L758.1,502.8 L759.2,502.2 L760.4,501.3 L762.0,505.2 L762.8,512.8 L763.6,528.5 L764.4,537.2 L765.9,525.4 L767.5,511.3 L767.8,494.2 L768.8,491.9 L769.9,489.5 L771.4,480.1 L773.0,473.0 L774.2,472.6 L775.4,469.1 L776.5,469.9 L777.7,469.9 L779.3,469.1 L781.3,472.2 L783.2,464.4 L785.6,453.4 L787.1,444.0 L788.7,434.5 L789.8,430.6 L791.1,422.0 L791.8,429.0 L792.9,427.5 L794.2,444.0 L795.8,446.3 L798.1,453.4 L799.3,453.4 L800.5,454.9 L802.4,450.2 L804.4,456.5 L806.4,464.4 L808.3,466.7 L809.9,481.6 L810.7,486.3 L812.2,481.6 L813.4,482.6 L814.6,482.4 L815.9,506.8 L817.4,495.8 L818.5,495.9 L819.6,495.8 L820.7,494.2 L821.7,492.6 L823.2,505.2 L824.8,509.8 L826.1,522.3 L827.9,523.1 L830.0,516.0 L831.6,538.8 L832.9,539.3 L834.2,538.8 L835.8,530.9 L838.1,523.1 L839.3,519.7 L840.5,516.0 L841.7,515.9 L842.9,512.8 L844.7,517.6 L846.8,524.6 L848.0,525.6 L849.1,526.2 L851.0,524.6 L852.0,527.1 L853.1,529.3 L854.6,536.4 L856.2,550.5 L857.8,567.8 L859.3,578.8 L860.5,578.9 L861.7,577.2 L862.9,578.7 L864.0,581.1 L865.2,583.1 L866.4,583.5 L867.6,585.0 L868.8,586.6 L870.3,594.5 L871.9,595.3 L873.5,585.1 L874.6,572.5 L876.6,567.8 L878.2,552.1 L879.7,545.8 L881.3,536.4 L882.9,512.0 L884.5,500.5 L885.6,504.5 L886.8,506.8 L888.4,514.4 L890.0,525.4 L891.5,541.1 L893.1,558.4 L894.2,560.1 L895.4,563.1 L896.6,565.0 L897.8,566.2 L898.9,567.4 L900.0,570.9 L901.6,570.5 L902.4,575.0 L903.9,586.0 L905.5,593.8 L907.1,619.0 L907.8,608.8 L909.1,637.8 L910.2,648.8 L911.0,644.9 L912.6,653.5 L913.8,655.1 L914.9,657.4 L916.1,655.9 L917.3,654.3 L918.8,655.8 L920.7,653.5 L922.0,644.1 L923.5,633.1 L925.4,620.5 L926.5,620.1 L927.5,619.0 L929.0,608.0 L930.6,623.7 L932.2,612.7 L934.2,611.9 L935.3,609.5 L936.9,618.2 L938.5,620.5 L940.0,629.9 L941.1,639.4 L942.4,653.5 L944.0,657.4 L945.1,657.7 L946.3,655.1 L947.5,657.2 L948.7,656.6 L950.5,652.7 L951.5,652.9 L952.6,655.1 L954.2,662.9 L955.7,666.8 L957.3,665.8 L958.9,666.0 L960.4,671.5 L961.6,673.6 L962.8,673.9 L964.7,669.2 L966.2,662.1 L967.8,672.3 L969.1,673.9 L970.6,669.2 L972.5,672.3 L974.1,675.5 L976.1,666.0 L977.2,667.6 L978.5,673.1 L979.7,662.9 L980.8,659.8 L981.9,646.4 L983.2,651.9 L984.8,637.8 L986.0,625.2 L987.6,614.2 L989.2,604.8 L991.1,604.0 L992.6,608.8 L993.9,615.8 L995.0,616.5 L996.1,616.6 L998.1,617.4 L999.3,618.3 L1000.5,621.3 L1002.4,621.3 L1003.9,614.2 L1005.5,606.4 L1006.8,590.7 L1008.0,580.5 L1009.6,597.8 L1011.1,584.4 L1012.5,576.3 L1014.3,581.8 L1015.6,579.8 L1017.0,577.0 L1018.1,573.3 L1019.3,571.3 L1020.5,567.9 L1021.7,565.8 L1023.7,572.0 L1025.3,561.1 L1026.8,539.1 L1028.7,554.8 L1030.3,555.6 L1032.5,566.0 L1034.2,568.9 L1035.3,559.5 L1036.6,552.4 L1037.8,551.1 L1038.9,551.6 L1041.0,557.9 L1042.9,564.2 L1044.7,570.5 L1046.8,564.2 L1048.4,572.0 L1050.4,583.5 L1052.3,592.3 L1054.2,601.7 L1055.7,615.8 L1056.7,632.3 L1058.2,626.8 L1059.6,626.2 L1060.9,626.0 L1062.1,629.3 L1063.3,629.2 L1064.5,630.7 L1065.6,629.4 L1066.7,627.6 L1068.0,626.3 L1069.2,625.2 L1070.3,619.0 L1071.4,622.1 L1072.7,616.6 L1073.5,623.7 L1074.3,606.4 L1075.0,582.8 L1075.5,564.2 L1076.6,546.9 L1078.2,535.9 L1080.2,548.5 L1082.1,539.1 L1083.7,528.1 L1085.2,523.4 L1086.8,515.5 L1088.4,509.2 L1090.0,499.8 L1091.5,496.7 L1093.1,486.5 L1095.0,482.6 L1096.5,493.5 L1098.1,495.1 L1099.4,493.5 L1100.0,501.4 L1101.2,504.7 L1102.3,504.0 L1103.2,489.0 L1104.3,490.6 L1105.4,502.4 L1107.5,500.8 L1109.0,508.7 L1111.1,510.2 L1113.0,514.2 L1114.2,517.2 L1115.3,516.5 L1116.5,518.1 L1117.7,520.4 L1118.8,521.1 L1120.0,522.0 L1122.1,520.4 L1123.2,513.4 L1124.0,500.8 L1125.2,493.0 L1126.3,480.4 L1127.9,478.0 L1129.1,476.3 L1130.2,474.9 L1131.4,473.3 L1132.6,471.0 L1134.1,469.4 L1135.2,467.6 L1136.2,466.3 L1137.8,467.1" fill="none" stroke="#d62728" stroke-width="1.7" stroke-linejoin="round" stroke-linecap="butt"/>
<path d="M107.5,652.7 L109.4,658.2 L111.0,667.6 L112.2,669.1 L113.3,672.3 L114.9,672.7 L116.5,674.7 L118.0,674.8 L119.6,673.9 L121.2,671.5 L122.8,672.3 L124.3,664.5 L125.5,661.2 L126.7,658.2 L128.2,655.1 L129.8,655.1 L131.1,656.1 L132.4,655.7 L133.8,655.8 L135.1,657.5 L136.4,657.0 L137.7,658.2 L139.0,658.2 L140.3,657.5 L141.6,657.4 L143.1,654.9 L144.7,653.5 L146.3,659.0 L147.5,656.0 L148.7,652.7 L150.2,653.5 L151.8,655.4 L153.4,659.0 L154.9,659.6 L156.5,660.6 L157.7,663.0 L158.9,664.5 L160.4,662.9 L162.0,661.3 L163.2,661.4 L164.4,662.1 L165.9,666.0 L167.5,666.8 L169.1,664.5 L170.2,663.7 L171.4,662.9 L173.5,656.6 L175.4,662.1 L176.9,670.0 L178.5,661.3 L179.8,660.7 L181.1,660.9 L182.4,660.6 L184.0,659.8 L185.6,659.8 L186.8,662.3 L187.9,665.3 L189.2,664.8 L190.5,666.2 L191.8,664.5 L193.1,665.0 L194.5,665.6 L195.8,666.0 L197.4,667.0 L198.9,668.5 L200.5,667.6 L201.7,667.8 L202.8,668.4 L203.6,656.6 L205.2,655.0 L206.8,654.3 L208.4,657.2 L209.9,656.6 L211.4,656.0 L213.0,657.4 L214.6,659.5 L216.2,662.1 L217.5,662.8 L218.8,664.2 L220.1,662.9 L221.4,662.8 L222.7,662.3 L224.0,664.5 L225.6,665.7 L227.2,666.0 L229.5,658.2 L230.7,657.0 L231.9,656.6 L233.1,653.6 L234.2,651.1 L235.8,647.9 L237.4,644.1 L238.9,643.1 L240.5,641.7 L242.1,638.0 L243.6,633.9 L244.8,631.2 L246.0,629.2 L247.6,627.6 L249.1,632.3 L250.3,632.4 L251.5,630.7 L253.1,622.1 L254.2,614.2 L255.4,625.2 L257.0,627.9 L258.6,628.4 L260.1,629.2 L261.7,630.0 L262.9,630.8 L264.0,632.3 L265.2,629.3 L266.4,625.2 L267.6,625.2 L268.8,624.5 L270.0,626.9 L271.1,630.7 L273.5,639.4 L275.0,633.1 L276.2,633.9 L277.4,635.4 L278.9,637.3 L280.5,637.8 L282.1,638.1 L283.7,638.6 L285.0,637.6 L286.3,637.1 L287.6,636.2 L289.1,633.8 L290.7,631.5 L293.1,622.9 L294.6,622.5 L296.2,622.1 L297.5,620.5 L298.7,622.8 L300.0,621.3 L302.4,612.7 L303.5,612.4 L304.7,611.9 L306.3,595.4 L307.5,593.6 L308.6,593.1 L310.2,595.3 L311.8,596.2 L314.1,603.3 L315.3,602.7 L316.5,601.7 L318.1,597.0 L319.2,595.8 L320.4,594.6 L321.9,596.9 L323.5,597.8 L325.1,600.5 L326.7,600.1 L328.3,608.8 L330.6,616.6 L332.2,615.0 L333.8,612.7 L335.3,613.8 L336.9,614.2 L338.5,612.7 L339.8,612.3 L341.1,612.9 L342.4,613.5 L343.7,615.6 L345.0,615.4 L346.3,618.2 L347.5,620.8 L348.7,623.7 L349.9,623.8 L351.0,622.1 L352.6,606.4 L354.2,595.4 L355.8,593.8 L357.3,590.7 L358.9,590.3 L360.4,589.1 L362.8,578.2 L363.6,578.3 L365.2,576.5 L366.7,579.1 L368.3,577.0 L370.6,586.0 L372.2,587.2 L373.8,587.6 L375.4,588.9 L376.9,589.1 L378.1,587.1 L379.3,584.4 L380.8,574.4 L382.1,572.7 L383.5,572.3 L384.8,572.8 L386.1,571.7 L387.4,573.6 L388.7,572.0 L391.1,561.1 L392.6,559.5 L395.0,547.7 L396.5,548.5 L398.9,556.3 L400.4,557.3 L402.0,559.5 L403.6,560.1 L405.2,561.1 L406.4,562.5 L407.5,564.2 L409.1,555.6 L410.7,555.6 L411.8,567.3 L413.8,569.7 L415.1,570.4 L416.4,570.6 L417.7,570.5 L418.9,571.1 L420.1,571.3 L422.1,564.2 L423.2,559.5 L424.4,560.2 L425.6,562.6 L427.1,561.2 L428.7,564.2 L430.0,564.8 L431.4,565.5 L432.7,565.8 L434.3,566.4 L435.8,565.2 L437.4,565.0 L439.0,564.8 L440.5,565.8 L442.1,565.8 L443.7,564.7 L445.2,565.1 L446.8,565.8 L448.1,564.3 L449.4,564.4 L450.7,563.4 L451.9,565.3 L453.1,564.2 L454.2,562.4 L455.4,559.5 L457.0,553.2 L458.1,553.2 L459.3,551.6 L460.5,549.4 L461.7,546.9 L463.6,540.6 L465.6,543.0 L466.9,542.9 L468.2,542.2 L469.5,542.2 L471.4,537.5 L472.4,536.1 L473.5,535.1 L475.0,543.8 L476.3,542.6 L477.7,544.0 L479.0,545.4 L480.1,541.3 L481.3,539.1 L482.4,520.2 L483.4,520.8 L484.5,520.2 L486.0,529.7 L487.2,531.3 L488.4,532.0 L490.3,523.4 L491.8,514.7 L493.0,513.9 L494.2,511.6 L496.2,517.1 L497.5,517.9 L498.7,516.4 L500.0,516.3 L501.6,517.1 L502.2,556.0 L503.4,554.5 L504.7,551.6 L506.2,553.8 L507.8,553.2 L509.4,554.4 L511.0,555.6 L512.5,556.7 L514.1,556.3 L515.5,558.2 L517.0,560.3 L518.1,554.8 L519.7,553.3 L521.2,554.0 L522.8,554.9 L524.3,555.6 L525.9,561.1 L527.1,564.0 L528.3,568.1 L529.5,568.9 L531.4,557.9 L533.0,554.8 L534.5,543.8 L535.7,542.7 L536.9,541.4 L538.5,540.7 L540.0,540.6 L541.6,540.1 L543.2,539.1 L544.4,535.6 L545.5,535.1 L547.1,534.4 L547.9,529.7 L549.5,537.5 L551.0,538.2 L552.6,535.9 L553.9,536.4 L555.2,534.7 L556.5,534.4 L557.7,532.2 L558.9,531.2 L560.0,530.8 L561.2,530.4 L563.6,522.6 L564.8,521.1 L565.9,518.7 L567.2,508.5 L568.6,515.5 L570.3,510.8 L571.4,499.0 L572.6,498.5 L573.8,497.5 L575.8,495.9 L576.9,497.7 L578.0,499.0 L579.3,509.2 L580.5,508.6 L581.6,510.8 L582.9,509.5 L584.3,510.7 L585.6,509.2 L586.8,508.2 L587.9,506.9 L589.1,503.5 L590.3,502.2 L591.5,501.2 L592.6,501.4 L593.8,501.9 L595.0,504.5 L597.0,511.6 L598.4,511.7 L599.7,513.2 L601.2,514.8 L602.8,514.7 L604.1,514.8 L605.5,516.0 L606.8,515.5 L608.0,516.4 L609.1,517.1 L610.7,521.8 L612.2,522.6 L614.3,517.1 L616.2,523.4 L618.1,522.6 L620.1,528.1 L622.4,520.2 L623.6,518.8 L624.8,519.5 L626.0,517.0 L627.2,515.5 L628.8,517.1 L630.3,515.5 L631.5,515.8 L632.7,517.1 L633.8,523.4 L635.3,515.5 L636.3,514.4 L637.4,514.7 L638.5,520.2 L640.0,511.6 L641.8,512.1 L643.6,510.8 L644.9,511.1 L646.3,511.3 L647.6,511.6 L648.9,512.6 L650.2,510.3 L651.5,511.6 L653.0,513.4 L654.6,514.7 L655.8,515.5 L657.0,517.9 L658.1,517.7 L659.3,519.5 L660.5,515.4 L661.7,512.4 L663.3,505.3 L665.1,496.7 L666.4,498.3 L668.0,492.8 L669.9,499.0 L671.4,509.2 L672.7,515.5 L673.9,514.8 L675.0,512.4 L676.0,510.3 L677.1,508.5 L678.4,507.5 L679.7,509.2 L680.9,509.6 L682.1,511.6 L683.3,516.2 L684.5,518.7 L686.8,528.1 L688.0,532.0 L689.2,534.4 L691.5,541.4 L693.1,541.0 L694.7,542.2 L695.9,544.7 L697.0,543.8 L698.5,543.1 L700.0,543.0 L701.2,542.7 L702.4,544.2 L703.5,546.9 L704.7,549.7 L706.2,549.2 L707.8,547.4 L709.1,548.8 L710.5,548.7 L711.8,548.2 L713.3,539.5 L714.5,540.4 L715.7,541.9 L717.2,542.6 L718.8,544.2 L720.1,544.2 L721.5,546.3 L722.8,547.4 L724.3,545.0 L725.9,543.5 L727.2,542.1 L728.5,539.4 L729.8,538.8 L731.1,539.2 L732.4,539.7 L733.8,541.1 L735.3,527.0 L736.9,519.9 L738.0,519.0 L739.2,519.9 L741.6,527.8 L743.6,531.7 L745.5,540.3 L747.9,532.5 L749.0,531.3 L750.2,531.7 L751.4,532.5 L752.6,534.8 L753.8,531.2 L754.9,529.3 L756.1,529.7 L757.3,529.3 L758.5,532.9 L759.7,536.4 L760.9,537.0 L762.0,539.5 L763.2,538.3 L764.4,536.4 L766.0,536.2 L767.5,535.6 L769.1,545.8 L770.3,555.2 L771.4,554.7 L772.5,552.1 L773.8,554.7 L775.0,557.6 L776.9,554.5 L778.1,556.7 L779.3,559.2 L780.5,558.3 L781.6,558.4 L782.8,560.4 L784.0,562.3 L786.0,563.1 L787.9,556.8 L789.8,550.5 L791.8,556.8 L793.4,563.9 L794.6,565.0 L795.8,565.4 L797.0,566.7 L798.1,567.8 L799.3,568.4 L800.5,569.4 L801.6,571.0 L802.8,571.7 L804.0,574.5 L805.2,577.2 L806.4,578.2 L807.5,578.8 L809.1,581.9 L810.7,590.6 L812.2,596.1 L813.3,586.6 L814.6,599.2 L817.0,607.0 L818.1,604.8 L819.3,603.9 L820.5,600.9 L821.7,597.6 L824.0,589.8 L825.6,583.5 L826.8,581.2 L827.9,580.4 L829.0,582.1 L830.0,585.1 L831.9,583.5 L833.0,585.2 L834.2,586.6 L835.4,587.0 L836.6,584.3 L838.2,584.2 L839.7,582.7 L840.9,579.6 L842.1,576.4 L844.4,568.6 L845.6,570.8 L846.8,573.3 L848.0,573.2 L849.1,571.7 L850.3,571.9 L851.5,570.2 L852.6,573.0 L853.8,574.1 L855.7,581.9 L857.8,574.1 L859.3,564.7 L860.5,562.6 L861.7,560.7 L862.9,564.0 L864.0,567.0 L866.4,558.4 L867.6,558.6 L868.8,559.2 L870.8,566.2 L872.4,558.4 L873.9,547.4 L875.8,545.8 L877.4,530.1 L879.0,520.7 L880.5,511.3 L881.8,505.0 L882.9,484.8 L884.5,467.5 L885.6,466.1 L886.8,465.1 L888.0,465.7 L889.2,467.5 L890.7,473.8 L892.8,467.5 L894.1,467.7 L895.4,468.3 L896.5,464.0 L897.5,462.8 L899.4,457.3 L900.3,456.0 L901.0,470.0 L901.6,476.3 L903.1,478.6 L905.5,490.4 L906.6,487.6 L907.8,486.5 L909.4,487.2 L911.0,487.3 L912.3,487.1 L913.6,488.7 L914.9,488.8 L916.5,490.2 L918.1,493.5 L919.7,495.6 L921.2,498.3 L922.8,488.8 L924.3,476.3 L925.9,470.5 L927.5,468.7 L929.0,466.4 L930.1,475.0 L930.6,484.1 L933.0,476.3 L934.1,473.2 L935.3,471.5 L936.5,474.5 L937.7,478.6 L938.9,482.0 L940.0,481.8 L941.6,484.8 L943.2,488.8 L944.4,485.5 L945.5,483.3 L947.1,481.8 L948.3,479.8 L949.5,478.6 L950.6,476.6 L951.8,474.5 L953.3,474.0 L954.9,473.5 L956.5,474.7 L957.7,476.2 L958.9,476.3 L960.4,482.6 L962.0,483.5 L963.6,483.3 L964.8,481.5 L965.9,480.2 L967.5,472.4 L968.3,471.9 L969.8,470.1 L971.4,468.8 L973.0,466.4 L974.2,467.3 L975.4,470.3 L976.9,467.2 L978.5,470.3 L980.1,462.5 L981.6,442.8 L983.2,449.1 L984.8,453.1 L986.0,446.8 L987.9,446.0 L989.1,445.3 L990.3,446.8 L991.5,447.8 L992.6,449.9 L994.2,452.3 L995.4,453.6 L996.5,453.8 L997.7,455.1 L998.9,456.2 L1000.5,464.0 L1001.7,465.6 L1003.3,459.3 L1005.2,443.6 L1006.8,432.6 L1008.3,427.1 L1009.9,429.5 L1010.7,424.8 L1012.2,434.2 L1013.4,436.7 L1014.6,438.1 L1015.8,437.2 L1017.0,435.0 L1019.0,427.9 L1020.9,420.1 L1023.2,412.2 L1024.8,416.2 L1026.4,405.2 L1027.5,397.3 L1029.0,404.4 L1030.3,411.4 L1031.6,408.3 L1033.4,412.2 L1035.0,415.4 L1036.2,414.5 L1037.4,413.8 L1038.6,415.7 L1039.7,414.6 L1041.3,424.8 L1042.1,431.1 L1043.6,432.6 L1045.2,440.5 L1046.8,442.1 L1047.9,439.7 L1049.1,438.1 L1050.3,438.9 L1051.5,440.5 L1053.0,443.3 L1054.6,446.8 L1055.8,448.8 L1057.0,449.1 L1058.2,450.2 L1059.3,451.5 L1060.5,450.2 L1061.7,449.9 L1063.2,449.4 L1064.8,448.3 L1066.0,446.0 L1067.2,442.1 L1068.3,439.3 L1069.5,436.6 L1070.7,437.6 L1071.9,438.9 L1073.9,435.8 L1075.5,423.2 L1076.6,416.9 L1078.2,418.5 L1079.0,435.8 L1080.2,449.9 L1081.3,446.8 L1082.9,437.4 L1084.1,439.3 L1085.2,439.7 L1086.4,439.3 L1087.6,437.4 L1088.8,436.9 L1090.0,435.0 L1091.5,433.4 L1093.1,426.4 L1094.2,423.1 L1095.4,420.9 L1097.0,420.1 L1098.6,412.2 L1100.0,406.0 L1100.4,407.5 L1101.2,415.4 L1102.3,406.7 L1103.2,399.7 L1104.0,409.1 L1104.8,399.7 L1105.4,410.7 L1106.4,395.8 L1107.9,391.8 L1109.2,391.3 L1110.6,390.3 L1111.8,390.2 L1113.0,389.5 L1114.2,387.0 L1115.3,387.1 L1116.5,388.8 L1117.7,388.7 L1118.8,388.0 L1120.0,387.1 L1121.6,386.9 L1123.2,387.1 L1124.3,389.1 L1125.5,387.9 L1126.6,382.4 L1127.7,382.1 L1128.7,381.6 L1130.5,377.7 L1132.6,373.8 L1133.8,371.7 L1134.9,370.6 L1136.3,370.2 L1137.8,369.8" fill="none" stroke="#9467bd" stroke-width="1.7" stroke-linejoin="round" stroke-linecap="butt"/>
<path d="M107.5,394.7 L164.4,394.7 L165.6,370.6 L198.1,370.6 L198.9,394.7 L253.1,394.7 L254.6,426.7 L263.0,426.7 L263.6,408.8 L300.0,408.8 L396.1,408.8 L397.3,388.7 L459.3,388.7 L460.4,369.4 L464.0,369.4 L464.8,420.1 L470.8,420.1 L471.9,438.1 L500.0,438.1 L501.3,438.1 L501.3,457.0 L516.5,457.0 L517.6,438.9 L532.2,438.9 L533.0,457.0 L608.5,457.0 L608.8,577.5 L617.2,577.5 L619.6,616.6 L700.0,616.6 L876.6,616.7 L877.1,523.8 L890.7,523.8 L892.3,543.5 L900.0,543.5 L901.9,543.5 L903.3,585.7 L984.5,585.7 L985.1,605.6 L1010.7,605.6 L1011.8,645.6 L1025.6,645.6 L1026.8,626.0 L1030.3,626.0 L1031.8,473.5 L1033.0,473.5 L1033.6,532.0 L1092.3,532.0 L1093.1,512.4 L1100.0,512.4 L1101.5,512.6 L1102.0,642.7 L1102.8,559.7 L1103.5,642.7 L1104.2,559.7 L1104.9,676.0 L1105.9,529.9 L1137.8,529.9" fill="none" stroke="#8c564b" stroke-width="1.7" stroke-linejoin="round" stroke-linecap="butt"/>
</g>
<path d="M107.5,368.9V677.6M106.8,676.9H1138.5" stroke="#333" stroke-width="1.4" fill="none"/>
<path d="M107.5,676.90h-5.5M107.5,664.60h-3.5M107.5,652.30h-3.5M107.5,640.00h-3.5M107.5,627.70h-3.5M107.5,615.40h-5.5M107.5,603.10h-3.5M107.5,590.80h-3.5M107.5,578.50h-3.5M107.5,566.20h-3.5M107.5,553.90h-5.5M107.5,541.60h-3.5M107.5,529.30h-3.5M107.5,517.00h-3.5M107.5,504.70h-3.5M107.5,492.40h-5.5M107.5,480.10h-3.5M107.5,467.80h-3.5M107.5,455.50h-3.5M107.5,443.20h-3.5M107.5,430.90h-5.5M107.5,418.60h-3.5M107.5,406.30h-3.5M107.5,394.00h-3.5M107.5,381.70h-3.5M107.5,369.40h-5.5M375.4,675.4v6.5M594.4,675.4v6.5M812.9,675.4v6.5M1032.4,675.4v6.5" stroke="#222" stroke-width="1.2" fill="none"/>
<text x="94.3" y="372.0" font-size="10.69" text-anchor="end" fill="#555" stroke="#555" stroke-width="0.25" textLength="19.8" lengthAdjust="spacingAndGlyphs">1.00</text>
<text x="96.5" y="433.5" font-size="10.69" text-anchor="end" fill="#555" stroke="#555" stroke-width="0.25" textLength="45.4" lengthAdjust="spacingAndGlyphs">800.00 m</text>
<text x="96.5" y="495.0" font-size="10.69" text-anchor="end" fill="#555" stroke="#555" stroke-width="0.25" textLength="45.4" lengthAdjust="spacingAndGlyphs">600.00 m</text>
<text x="96.5" y="556.5" font-size="10.69" text-anchor="end" fill="#555" stroke="#555" stroke-width="0.25" textLength="45.8" lengthAdjust="spacingAndGlyphs">400.00 m</text>
<text x="96.5" y="618.0" font-size="10.69" text-anchor="end" fill="#555" stroke="#555" stroke-width="0.25" textLength="45.4" lengthAdjust="spacingAndGlyphs">200.00 m</text>
<text x="94.3" y="679.5" font-size="10.69" text-anchor="end" fill="#555" stroke="#555" stroke-width="0.25" textLength="20.4" lengthAdjust="spacingAndGlyphs">0.00</text>
<text x="375.0" y="692.2" font-size="10.69" text-anchor="middle" fill="#555" stroke="#555" stroke-width="0.25" textLength="20.1" lengthAdjust="spacingAndGlyphs">4/01</text>
<text x="594.0" y="692.2" font-size="10.69" text-anchor="middle" fill="#555" stroke="#555" stroke-width="0.25" textLength="21.0" lengthAdjust="spacingAndGlyphs">4/04</text>
<text x="812.5" y="692.2" font-size="10.69" text-anchor="middle" fill="#555" stroke="#555" stroke-width="0.25" textLength="20.8" lengthAdjust="spacingAndGlyphs">4/07</text>
<text x="1032.0" y="692.2" font-size="10.69" text-anchor="middle" fill="#555" stroke="#555" stroke-width="0.25" textLength="20.9" lengthAdjust="spacingAndGlyphs">4/10</text>
<text x="623.5" y="710.4" font-size="12.73" text-anchor="middle" font-style="italic" fill="#555" stroke="#555" stroke-width="0.25" textLength="66.1" lengthAdjust="spacingAndGlyphs">Date (UTC)</text>
<text x="28.2" y="522" font-size="12.73" text-anchor="middle" font-style="italic" fill="#555" stroke="#555" stroke-width="0.25" textLength="118.0" lengthAdjust="spacingAndGlyphs" transform="rotate(-90 28.2 522)">Norm. CVD (arb. u.)</text>
<rect x="1139" y="539.5" width="124" height="137" fill="#fff" fill-opacity="0.8" stroke="#eeeeee" stroke-width="1" rx="1.5"/>
<path d="M1147,556.8h17.5" stroke="#1f77b4" stroke-width="1.7" fill="none"/>
<text x="1169.3" y="560.4" font-size="12.82" fill="#555" stroke="#555" stroke-width="0.25" textLength="55.4" lengthAdjust="spacingAndGlyphs">all orders</text>
<path d="M1147,577.1h17.5" stroke="#ff7f0e" stroke-width="1.7" fill="none"/>
<text x="1169.3" y="580.7" font-size="12.82" fill="#555" stroke="#555" stroke-width="0.25" textLength="69.7" lengthAdjust="spacingAndGlyphs">$100 to $1k</text>
<path d="M1147,597.5h17.5" stroke="#2ca02c" stroke-width="1.7" fill="none"/>
<text x="1169.3" y="601.1" font-size="12.82" fill="#555" stroke="#555" stroke-width="0.25" textLength="69.4" lengthAdjust="spacingAndGlyphs">$1k to $10k</text>
<path d="M1147,617.8h17.5" stroke="#d62728" stroke-width="1.7" fill="none"/>
<text x="1169.3" y="621.4" font-size="12.82" fill="#555" stroke="#555" stroke-width="0.25" textLength="84.2" lengthAdjust="spacingAndGlyphs">$10k to $100k</text>
<path d="M1147,638.1h17.5" stroke="#9467bd" stroke-width="1.7" fill="none"/>
<text x="1169.3" y="641.7" font-size="12.82" fill="#555" stroke="#555" stroke-width="0.25" textLength="81.0" lengthAdjust="spacingAndGlyphs">$100k to $1M</text>
<path d="M1147,658.4h17.5" stroke="#8c564b" stroke-width="1.7" fill="none"/>
<text x="1169.3" y="662.0" font-size="12.82" fill="#555" stroke="#555" stroke-width="0.25" textLength="78.4" lengthAdjust="spacingAndGlyphs">$1M to $10M</text>
<path d="M758.02,19.33 757.15,19.57 755.77,20.76 755.15,21.84 755.15,22.79 755.40,23.39 757.02,24.94 757.65,25.18 758.65,25.18 759.27,24.94 760.65,23.75 761.15,22.91 761.15,21.72 760.77,21.00 759.52,19.81 758.90,19.45ZM757.77,9.18 756.90,9.54 755.52,10.86 755.15,11.57 755.15,12.65 755.52,13.36 756.90,14.68 757.77,15.03 758.52,15.03 759.40,14.68 760.65,13.60 761.15,12.77 761.15,11.57 760.77,10.86 759.40,9.54 758.52,9.18ZM684.65,9.18 683.77,9.30 682.90,9.90 681.15,9.18 678.02,9.18 677.15,9.42 675.27,10.38 672.90,12.65 671.77,15.51 671.65,18.50 672.52,21.12 673.02,21.96 675.02,23.87 677.77,25.18 682.15,25.06 681.77,26.14 680.65,26.97 678.90,27.09 677.52,26.38 676.40,26.14 675.27,26.49 674.65,27.09 674.27,28.05 674.65,29.36 675.40,30.08 677.40,31.03 681.27,31.15 683.52,30.20 685.40,28.52 686.52,25.66 686.65,11.09 686.27,10.14 685.65,9.54ZM678.65,13.36 680.52,13.36 681.27,13.72 682.27,14.68 682.27,19.81 681.40,20.64 680.40,21.12 678.77,21.12 677.77,20.64 676.52,19.45 675.90,17.54 676.02,16.35 676.52,15.03 677.90,13.72ZM656.65,9.54 655.90,10.26 655.65,10.98 655.65,23.51 656.02,24.35 657.27,25.18 658.40,25.18 659.52,24.46 660.02,23.27 660.02,15.51 661.90,13.72 662.65,13.36 664.52,13.36 665.02,13.72 665.40,14.80 665.52,23.87 666.27,24.82 667.02,25.18 668.15,25.18 668.90,24.82 669.52,24.11 669.77,23.39 669.77,14.44 668.52,10.98 667.90,10.38 665.15,9.18 662.02,9.18 659.90,10.14 658.02,9.18ZM650.52,9.18 649.52,9.54 648.90,10.14 648.52,11.09 648.52,23.39 648.77,24.11 649.40,24.82 650.15,25.18 651.27,25.18 652.52,24.35 652.90,23.39 652.90,10.98 652.52,10.14 651.90,9.54ZM617.52,10.38 615.15,12.65 613.90,16.11 614.02,18.85 614.77,21.00 615.40,22.08 617.65,24.11 620.02,25.18 623.77,25.18 624.90,24.58 625.27,24.58 626.15,25.18 627.27,25.18 628.02,24.82 628.52,24.35 628.90,23.51 628.90,10.86 628.65,10.26 627.77,9.42 626.90,9.18 626.02,9.30 625.15,9.90 623.40,9.18 620.27,9.18ZM620.90,13.36 622.77,13.36 623.90,13.96 624.65,14.80 624.65,19.69 623.65,20.64 622.65,21.12 621.02,21.12 620.02,20.64 618.90,19.57 618.27,18.02 618.27,16.47 618.77,15.03 620.15,13.72ZM613.27,9.30 609.65,9.18 607.27,10.14 606.65,9.54 605.27,9.18 604.40,9.42 603.52,10.26 603.27,10.86 603.27,23.51 603.65,24.35 604.27,24.94 604.90,25.18 606.27,25.06 607.27,24.23 607.52,23.75 607.52,16.94 608.15,15.03 609.52,13.72 610.27,13.36 613.27,13.24 614.52,12.17 614.65,10.74 614.27,10.02ZM561.15,10.14 560.02,11.09 558.90,13.36 558.90,14.32 560.02,16.59 560.77,17.30 562.65,18.26 567.52,19.21 568.40,19.69 568.52,20.41 566.90,21.12 564.90,21.12 563.52,20.64 562.77,19.33 562.02,18.73 560.02,18.73 559.02,19.81 558.90,21.12 560.15,23.51 561.02,24.23 564.02,25.18 567.90,25.18 571.02,24.11 571.77,23.39 572.77,21.60 573.02,20.53 572.90,19.21 571.90,17.18 570.52,15.99 571.90,15.63 572.90,14.44 572.90,13.24 571.65,10.86 570.65,10.14 567.40,9.18 564.40,9.18ZM563.52,13.84 564.65,13.36 567.15,13.36 568.27,13.72 569.27,15.27 569.02,15.39 564.90,14.56 563.65,14.08ZM547.52,9.18 546.52,9.54 545.90,10.14 545.52,10.98 545.52,23.39 545.90,24.35 546.40,24.82 547.15,25.18 548.27,25.18 549.40,24.46 549.90,23.39 549.90,11.09 549.52,10.14 548.90,9.54ZM530.52,9.54 529.90,10.14 529.52,11.21 529.90,12.41 530.52,13.00 531.40,13.36 536.77,13.36 536.90,13.60 529.90,21.96 529.52,22.79 529.52,23.51 529.90,24.35 531.15,25.18 542.02,25.18 542.77,24.82 543.52,23.87 543.65,22.79 543.27,21.96 542.40,21.24 536.40,21.12 536.27,20.88 543.27,12.53 543.65,11.81 543.65,10.74 543.27,10.02 541.90,9.18 531.52,9.18ZM504.15,10.14 503.77,11.09 503.77,23.27 504.02,24.11 504.65,24.82 505.40,25.18 506.52,25.18 507.77,24.35 508.15,23.39 508.15,15.51 510.02,13.72 510.77,13.36 512.65,13.36 513.15,13.72 513.52,14.68 513.52,23.15 513.77,24.11 514.65,24.94 515.15,25.18 516.65,25.06 517.77,23.87 517.90,15.51 519.77,13.72 520.52,13.36 522.40,13.36 522.90,13.72 523.27,14.68 523.27,23.03 523.65,24.23 524.40,24.94 525.02,25.18 526.40,25.06 527.40,24.23 527.65,23.63 527.65,14.20 526.77,11.57 525.65,10.26 523.02,9.18 519.52,9.30 517.40,10.26 516.65,10.86 515.90,10.26 513.27,9.18 510.27,9.18 508.02,10.14 506.65,9.30 505.77,9.18 504.77,9.54ZM492.27,9.18 489.52,10.50 487.15,12.89 486.02,16.11 486.15,18.85 487.27,21.72 489.77,24.11 492.15,25.18 495.90,25.18 498.40,23.99 500.65,21.84 501.90,18.50 501.90,15.99 500.90,13.00 498.27,10.38 495.52,9.18ZM493.02,13.36 494.90,13.36 496.02,13.96 496.90,14.80 497.65,16.82 497.52,18.14 497.02,19.45 495.77,20.64 494.77,21.12 493.15,21.12 492.15,20.64 491.02,19.57 490.40,17.90 490.40,16.47 490.90,15.03 492.27,13.72ZM644.27,3.34 642.65,3.46 641.65,4.41 641.40,5.25 641.40,9.54 640.27,9.18 637.15,9.18 634.40,10.38 632.02,12.65 630.90,15.63 630.77,18.38 631.77,21.36 634.02,23.75 636.90,25.18 640.65,25.18 641.77,24.58 642.15,24.58 643.02,25.18 644.15,25.18 645.40,24.35 645.77,23.51 645.77,5.01 645.40,4.17ZM637.77,13.36 639.65,13.36 640.40,13.72 641.52,14.80 641.52,19.57 640.52,20.64 639.52,21.12 637.90,21.12 636.90,20.64 635.77,19.57 635.15,18.02 635.15,16.47 635.65,15.03 637.02,13.72ZM554.15,3.34 553.02,4.17 552.65,5.01 552.65,11.69 552.90,12.29 553.77,13.12 555.02,13.36 556.02,13.00 556.90,11.93 557.02,5.25 556.77,4.41 556.15,3.69 555.40,3.34ZM837.52,3.34 836.90,3.57 836.27,4.17 835.90,5.01 835.02,12.41 835.27,13.96 836.40,14.91 837.65,15.03 838.27,14.80 839.40,13.84 840.90,13.36 843.27,13.36 844.77,13.84 846.02,15.03 846.52,16.35 846.65,17.42 846.02,19.45 844.90,20.53 843.52,21.00 841.15,21.12 839.52,20.64 838.90,20.17 838.15,18.62 837.52,18.02 836.40,17.66 835.15,18.02 834.40,18.73 834.15,19.33 834.27,20.53 835.52,22.79 836.77,23.99 840.15,25.18 844.02,25.18 846.65,24.35 847.65,23.75 849.52,21.96 850.02,21.12 850.90,18.50 850.90,15.99 849.65,12.65 847.27,10.38 843.65,9.18 839.90,9.30 839.90,7.87 840.15,7.39 847.77,7.27 848.40,6.92 849.02,6.08 849.02,4.65 848.15,3.57 846.90,3.22ZM823.77,3.22 819.90,4.53 817.65,7.51 817.27,8.35 816.40,12.41 816.40,16.11 817.40,20.53 819.90,23.99 823.27,25.18 826.27,25.18 829.40,24.11 830.27,23.27 831.90,21.00 832.27,20.17 833.15,15.99 833.15,12.53 832.15,7.99 830.15,5.01 828.90,4.17 826.40,3.34ZM824.15,7.39 825.40,7.39 826.77,7.87 828.02,9.42 828.77,12.65 828.77,15.75 828.02,19.09 826.77,20.64 825.27,21.12 823.77,21.00 822.77,20.64 822.27,20.17 821.40,18.85 820.65,15.03 820.65,13.36 821.40,9.66 822.65,7.87ZM801.90,3.34 800.77,4.17 800.40,5.01 800.52,6.08 801.27,7.04 802.15,7.39 807.90,7.51 805.02,11.21 804.90,12.77 805.15,13.24 806.27,14.08 809.27,14.20 810.02,14.56 810.52,15.03 811.02,16.47 811.02,18.02 810.40,19.57 809.40,20.53 807.52,21.12 805.65,21.12 803.77,20.53 802.15,18.14 801.52,17.78 800.65,17.66 799.77,17.90 798.90,18.73 798.65,19.33 798.77,20.64 799.90,22.67 801.27,23.99 804.65,25.18 808.52,25.18 811.15,24.35 812.15,23.75 813.90,22.08 814.40,21.36 815.40,18.38 815.40,16.11 814.15,12.65 812.77,11.33 811.02,10.38 814.27,6.32 814.52,5.48 814.40,4.65 813.65,3.69 812.27,3.22ZM784.15,3.34 782.90,4.29 782.65,4.89 782.77,6.08 783.52,7.04 784.40,7.39 790.15,7.51 787.40,10.98 787.15,11.57 787.15,12.77 787.40,13.24 788.52,14.08 791.52,14.20 792.27,14.56 792.77,15.03 793.27,16.47 793.27,17.90 792.65,19.57 791.65,20.53 789.77,21.12 787.90,21.12 786.02,20.53 784.40,18.14 783.77,17.78 782.90,17.66 782.02,17.90 781.27,18.50 780.90,19.21 781.02,20.64 782.15,22.67 783.52,23.99 786.90,25.18 790.77,25.18 793.40,24.35 794.40,23.75 796.15,22.08 796.77,21.00 797.65,18.26 797.65,16.11 796.52,12.89 795.02,11.33 793.27,10.38 796.27,6.68 796.77,5.48 796.65,4.65 795.90,3.69 794.52,3.22ZM766.40,3.34 765.15,4.29 764.90,4.89 764.02,12.17 764.15,13.84 764.90,14.68 765.77,15.03 766.90,14.91 768.15,13.96 769.90,13.36 772.27,13.36 773.77,13.84 775.02,15.03 775.52,16.47 775.52,17.90 774.90,19.57 773.90,20.53 772.02,21.12 770.02,21.12 768.27,20.53 767.77,20.05 767.02,18.50 766.27,17.90 765.40,17.66 764.52,17.78 763.52,18.50 763.15,19.21 763.27,20.64 764.40,22.67 765.77,23.99 769.15,25.18 773.02,25.18 775.65,24.35 778.40,22.08 779.77,18.85 779.90,16.23 778.90,13.12 778.52,12.53 775.77,10.14 772.52,9.18 768.90,9.30 768.90,7.51 776.40,7.39 777.02,7.16 777.77,6.44 778.02,5.96 778.02,4.77 777.27,3.69 775.90,3.22ZM754.02,3.57 752.77,3.22 741.15,3.22 740.27,3.46 739.40,4.29 739.15,4.77 739.15,23.63 739.40,24.23 740.15,24.94 740.77,25.18 742.15,25.06 743.15,24.23 743.40,23.75 743.40,15.99 748.90,15.87 749.65,15.51 750.27,14.91 750.52,14.32 750.52,13.36 750.27,12.77 749.02,11.81 743.65,11.81 743.40,11.57 743.40,7.51 753.65,7.27 754.52,6.68 755.02,5.60 754.90,4.65ZM723.40,3.46 722.27,4.77 722.27,23.75 722.52,24.23 723.77,25.18 736.52,25.18 737.27,24.82 738.02,23.87 738.15,22.91 737.65,21.84 736.52,21.12 726.77,21.12 726.52,20.88 726.65,15.87 732.02,15.87 732.65,15.63 733.40,14.91 733.65,14.32 733.65,13.36 733.40,12.77 732.15,11.81 726.77,11.81 726.52,11.57 726.52,7.51 736.40,7.39 737.40,6.92 738.02,6.08 738.15,5.13 737.77,4.17 737.15,3.57 735.90,3.22 724.27,3.22ZM704.40,3.69 703.65,4.77 703.65,23.63 703.90,24.23 704.65,24.94 705.27,25.18 706.65,25.06 707.65,24.23 707.90,23.63 707.90,15.99 710.77,15.87 716.40,24.35 717.65,25.18 718.77,25.18 719.52,24.82 720.27,23.87 720.27,22.44 715.65,15.51 718.02,14.44 719.27,13.12 720.27,11.09 720.40,8.59 719.02,5.72 717.52,4.41 713.77,3.22 705.65,3.22ZM707.90,7.51 713.52,7.39 715.52,8.23 716.02,9.07 716.02,10.02 715.15,11.21 713.27,11.81 708.02,11.81ZM587.90,3.34 586.65,4.29 586.40,5.01 586.52,6.08 587.27,7.04 588.15,7.39 592.65,7.51 592.65,23.63 592.90,24.23 593.65,24.94 594.27,25.18 595.27,25.18 595.90,24.94 596.65,24.23 596.90,23.63 596.90,7.51 601.77,7.27 602.77,6.56 603.15,5.72 603.15,5.01 602.77,4.17 602.15,3.57 600.90,3.22ZM474.90,3.22 473.90,3.46 471.77,4.53 469.40,6.92 468.40,8.83 467.40,11.81 467.40,16.71 468.40,19.69 469.40,21.60 471.52,23.75 474.40,25.18 479.02,25.18 481.52,23.99 483.77,21.84 485.02,19.33 484.90,15.51 484.02,14.56 483.40,14.32 478.02,14.32 477.15,14.68 476.65,15.15 476.27,15.99 476.27,16.71 476.65,17.54 477.77,18.38 480.52,18.38 480.65,18.62 480.27,19.33 478.90,20.64 477.90,21.12 475.40,21.12 474.40,20.64 473.15,19.45 471.77,16.35 471.65,12.77 472.27,10.74 473.02,9.18 474.40,7.87 475.40,7.39 478.02,7.39 478.77,7.75 480.27,9.18 481.15,10.86 482.27,11.57 483.52,11.57 484.02,11.33 484.90,10.38 485.02,9.18 483.77,6.68 481.15,4.29 478.40,3.22ZM650.02,2.50 647.90,4.29 647.65,5.72 648.02,6.56 649.40,7.87 650.27,8.23 651.15,8.23 652.02,7.87 653.40,6.56 653.77,5.72 653.77,5.01 653.40,4.17 651.90,2.74 651.40,2.50ZM547.02,2.50 544.90,4.29 544.65,4.89 544.65,5.84 545.02,6.56 546.40,7.87 547.27,8.23 548.15,8.23 549.02,7.87 550.27,6.68 550.65,6.08 550.77,5.13 550.40,4.17 548.90,2.74 548.40,2.50Z" fill="#000" fill-rule="evenodd"/>
</svg>
<h1>Gomzi's Trading REF:53305</h1>
</body></html>
